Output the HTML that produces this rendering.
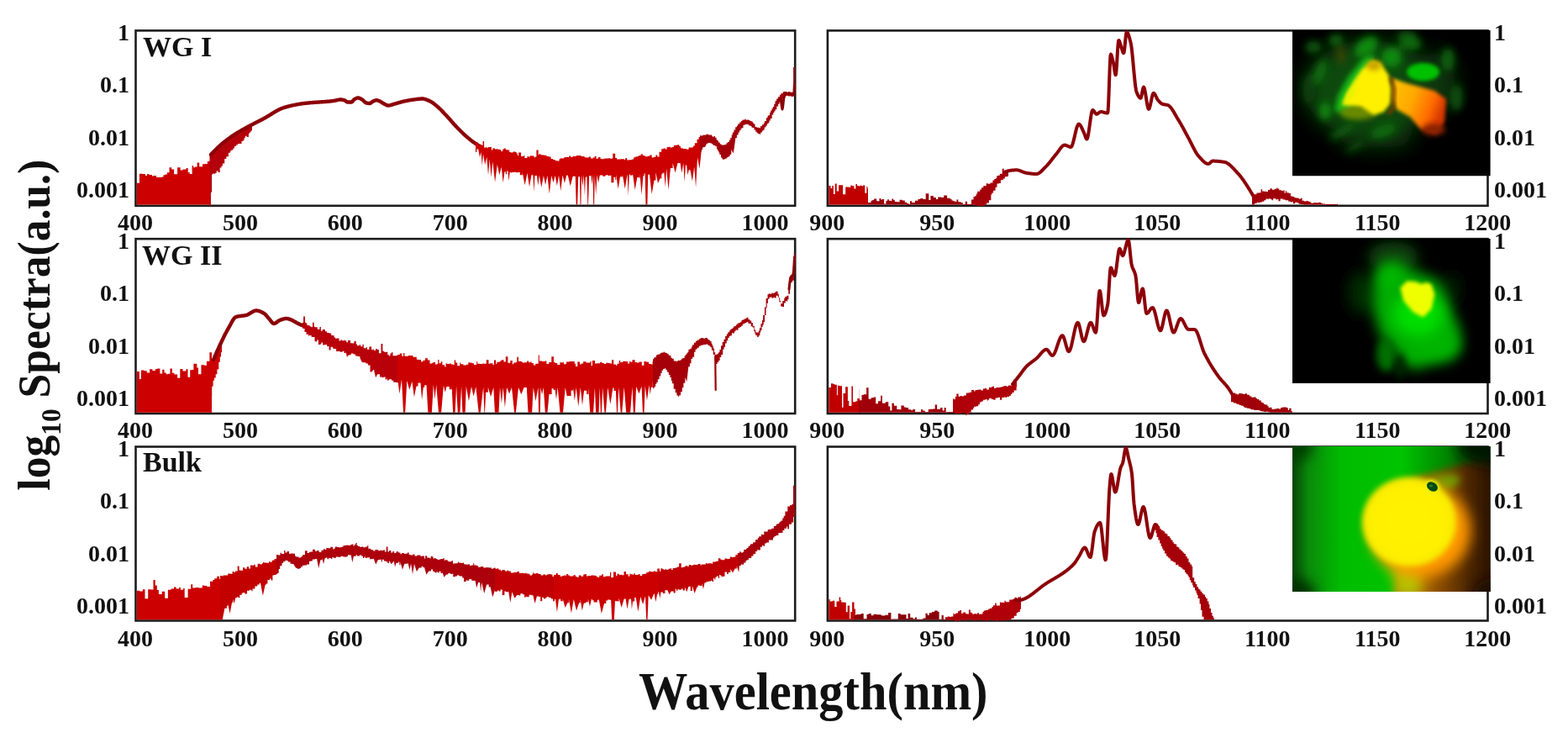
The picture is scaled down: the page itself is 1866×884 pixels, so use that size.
<!DOCTYPE html>
<html><head><meta charset="utf-8"><title>Spectra</title>
<style>
html,body{margin:0;padding:0;background:#fff;}
body{width:1866px;height:884px;overflow:hidden;}
svg{display:block;}
.tk{font-family:"Liberation Serif",serif;font-weight:bold;font-size:28px;fill:#111;}
.tx{font-family:"Liberation Serif",serif;font-weight:bold;font-size:28px;fill:#111;}
.pl{font-family:"Liberation Serif",serif;font-weight:bold;font-size:34px;fill:#111;}
.xl{font-family:"Liberation Serif",serif;font-weight:bold;font-size:64px;fill:#111;}
.yl{font-family:"Liberation Serif",serif;font-weight:bold;font-size:54px;fill:#111;}
</style></head>
<body>
<svg width="1866" height="884" viewBox="0 0 1866 884">
<rect width="1866" height="884" fill="#fff"/>
<rect x="161.5" y="36.4" width="784.7" height="208.4" fill="none" stroke="#1c1c1c" stroke-width="2.6"/>
<rect x="984.9" y="36.4" width="785.6" height="208.4" fill="none" stroke="#1c1c1c" stroke-width="2.6"/>
<rect x="161.5" y="284.2" width="784.7" height="207.8" fill="none" stroke="#1c1c1c" stroke-width="2.6"/>
<rect x="984.9" y="284.2" width="785.6" height="207.8" fill="none" stroke="#1c1c1c" stroke-width="2.6"/>
<rect x="161.5" y="531.5" width="784.7" height="207.0" fill="none" stroke="#1c1c1c" stroke-width="2.6"/>
<rect x="984.9" y="531.5" width="785.6" height="207.0" fill="none" stroke="#1c1c1c" stroke-width="2.6"/>
<g id="curves">
<path d="M162.8 217.8 L165.9 217.8 L165.9 206.8 L169.6 206.8 L169.6 207 L173 207 L173 209 L175.1 209 L175.1 207 L177.4 207 L177.4 208 L181 208 L181 209.4 L182.6 209.4 L182.6 209 L186.1 209 L186.1 210.9 L189.6 210.9 L189.6 210.9 L192.3 210.9 L192.3 210.4 L194.5 210.4 L194.5 208.3 L196.7 208.3 L196.7 207.4 L198.9 207.4 L198.9 205.3 L201.5 205.3 L201.5 199.2 L204.2 199.2 L204.2 201.4 L207.1 201.4 L207.1 207.2 L211.1 207.2 L211.1 199.3 L214.6 199.3 L214.6 202.6 L217.6 202.6 L217.6 201.5 L221.6 201.5 L221.6 200.1 L223.7 200.1 L223.7 204.9 L225.6 204.9 L225.6 206.9 L228.6 206.9 L228.6 196.9 L230.2 196.9 L230.2 199.3 L231.8 199.3 L231.8 198.6 L234.6 198.6 L234.6 193.4 L237.2 193.4 L237.2 198.3 L241 198.3 L241 195.3 L244.1 195.3 L244.1 195.1 L246.9 195.1 L246.9 192.1 L249.6 192.1 L249.6 190.8 L250.5 190.8 L250.5 243.6 L250.5 243.6 L249.1 243.6 L249.1 243.6 L247.6 243.6 L247.6 243.6 L245.7 243.6 L245.7 243.6 L244.1 243.6 L244.1 243.6 L242.1 243.6 L242.1 243.6 L240 243.6 L240 243.6 L238.4 243.6 L238.4 243.6 L234.6 243.6 L234.6 243.6 L230.9 243.6 L230.9 243.6 L227.1 243.6 L227.1 243.6 L223.8 243.6 L223.8 243.6 L220.4 243.6 L220.4 243.6 L218.7 243.6 L218.7 243.6 L215.6 243.6 L215.6 243.6 L213 243.6 L213 243.6 L210.7 243.6 L210.7 243.6 L207.7 243.6 L207.7 243.6 L204.7 243.6 L204.7 243.6 L201.1 243.6 L201.1 243.6 L199.1 243.6 L199.1 243.6 L197.1 243.6 L197.1 243.6 L194.7 243.6 L194.7 243.6 L191.7 243.6 L191.7 243.6 L188.5 243.6 L188.5 243.6 L186.4 243.6 L186.4 243.6 L183.6 243.6 L183.6 243.6 L181.9 243.6 L181.9 243.6 L179.4 243.6 L179.4 243.6 L176.8 243.6 L176.8 243.6 L173.4 243.6 L173.4 243.6 L170.6 243.6 L170.6 243.6 L166.7 243.6 L166.7 243.6 L162.8 243.6Z" fill="#cc0000"/>
<path d="M249.5 185.1 L251.3 185.1 L251.3 181.6 L253.5 181.6 L253.5 179.6 L255.5 179.6 L255.5 177.3 L257.4 177.3 L257.4 175.9 L258.7 175.9 L258.7 175.3 L260.6 175.3 L260.6 173.2 L261.6 173.2 L261.6 172.6 L263.8 172.6 L263.8 170.6 L266.3 170.6 L266.3 170.1 L268.6 170.1 L268.6 166.1 L269.6 166.1 L269.6 167 L271.1 167 L271.1 165.2 L272.6 165.2 L272.6 164.3 L273.8 164.3 L273.8 162.2 L275.7 162.2 L275.7 161.6 L277.9 161.6 L277.9 161.4 L279.4 161.4 L279.4 159.6 L281.7 159.6 L281.7 158.4 L283.9 158.4 L283.9 157 L285.1 157 L285.1 157.2 L287.2 157.2 L287.2 155 L289.6 155 L289.6 152.2 L290.9 152.2 L290.9 152.6 L292.7 152.6 L292.7 150.5 L294.7 150.5 L294.7 148.5 L296.6 148.5 L296.6 149.9 L297.7 149.9 L297.7 150.7 L299.7 150.7 L299.7 149.1 L300 149.1 L300 152 L300 155.6 L298.5 155.6 L298.5 157.4 L297 157.4 L297 158.7 L295.9 158.7 L295.9 163 L293.6 163 L293.6 161.8 L291.9 161.8 L291.9 164 L290.7 164 L290.7 166.5 L289.5 166.5 L289.5 167.9 L287.5 167.9 L287.5 171 L285.3 171 L285.3 171 L282.9 171 L282.9 172.5 L280.9 172.5 L280.9 174.1 L279 174.1 L279 176.5 L277.4 176.5 L277.4 178.5 L275.3 178.5 L275.3 179.4 L274.1 179.4 L274.1 181.7 L271.9 181.7 L271.9 186.3 L269.4 186.3 L269.4 189.1 L267.2 189.1 L267.2 194.4 L264.9 194.4 L264.9 197.6 L263.5 197.6 L263.5 199.6 L261.7 199.6 L261.7 205.1 L259.7 205.1 L259.7 203.4 L257.6 203.4 L257.6 206 L256 206 L256 206.7 L254.7 206.7 L254.7 206.4 L253.3 206.4 L253.3 207.6 L252.1 207.6 L252.1 228.8 L250.9 228.8 L250.9 245.3 L249.5 245.3Z" fill="#b4000a"/>
<path d="M251 184L251.5 183.4L252 182.9L252.5 182.4L253 181.8L253.5 181.3L254 180.8L254.5 180.2L255 179.7L255.5 179.2L256 178.7L256.5 178.2L257 177.7L257.5 177.2L258 176.7L258.5 176.3L259 175.8L259.5 175.3L260 174.8L260.5 174.4L261 173.9L261.5 173.5L262 173L262.5 172.6L263 172.1L263.5 171.7L264 171.2L264.5 170.8L265 170.4L265.5 170L266 169.6L266.5 169.2L267 168.8L267.5 168.4L268 168L268.5 167.6L269 167.2L269.5 166.9L270 166.5L270.5 166.1L271 165.7L271.5 165.4L272 165L272.5 164.6L273 164.3L273.5 163.9L274 163.6L274.5 163.2L275 162.8L275.5 162.5L276 162.2L276.5 161.8L277 161.5L277.5 161.1L278 160.8L278.5 160.5L279 160.1L279.5 159.8L280 159.5L280.5 159.2L281 158.9L281.5 158.6L282 158.2L282.5 157.9L283 157.6L283.5 157.3L284 157L284.5 156.7L285 156.5L285.5 156.2L286 155.9L286.5 155.6L287 155.3L287.5 155L288 154.7L288.5 154.4L289 154.2L289.5 153.9L290 153.6L290.5 153.3L291 153.1L291.5 152.8L292 152.5L292.5 152.2L293 151.9L293.5 151.7L294 151.4L294.5 151.1L295 150.9L295.5 150.6L296 150.3L296.5 150.1L297 149.8L297.5 149.5L298 149.3L298.5 149L299 148.8L299.5 148.5L300 148.2L300.5 148L301 147.7L301.5 147.5L302 147.2L302.5 146.9L303 146.7L303.5 146.4L304 146.2L304.5 145.9L305 145.7L305.5 145.4L306 145.2L306.5 144.9L307 144.6L307.5 144.4L308 144.1L308.5 143.9L309 143.6L309.5 143.4L310 143.1L310.5 142.8L311 142.6L311.5 142.3L312 142.1L312.5 141.8L313 141.5L313.5 141.3L314 141L314.5 140.7L315 140.5L315.5 140.2L316 139.9L316.5 139.6L317 139.3L317.5 139L318 138.7L318.5 138.4L319 138.1L319.5 137.8L320 137.5L320.5 137.2L321 136.9L321.5 136.6L322 136.3L322.5 136L323 135.7L323.5 135.3L324 135L324.5 134.7L325 134.4L325.5 134.1L326 133.8L326.5 133.5L327 133.2L327.5 132.9L328 132.6L328.5 132.3L329 132L329.5 131.8L330 131.5L330.5 131.2L331 131L331.5 130.7L332 130.4L332.5 130.2L333 130L333.5 129.7L334 129.5L334.5 129.3L335 129.1L335.5 128.9L336 128.7L336.5 128.5L337 128.3L337.5 128.2L338 128L338.5 127.9L339 127.7L339.5 127.6L340 127.4L340.5 127.3L341 127.1L341.5 127L342 126.9L342.5 126.7L343 126.6L343.5 126.5L344 126.3L344.5 126.2L345 126.1L345.5 126L346 125.9L346.5 125.7L347 125.6L347.5 125.5L348 125.4L348.5 125.3L349 125.2L349.5 125.1L350 125L350.5 124.9L351 124.8L351.5 124.7L352 124.6L352.5 124.5L353 124.4L353.5 124.3L354 124.2L354.5 124.1L355 124L355.5 123.9L356 123.9L356.5 123.8L357 123.7L357.5 123.6L358 123.5L358.5 123.5L359 123.4L359.5 123.3L360 123.3L360.5 123.2L361 123.1L361.5 123.1L362 123L362.5 122.9L363 122.9L363.5 122.8L364 122.8L364.5 122.7L365 122.7L365.5 122.6L366 122.6L366.5 122.5L367 122.5L367.5 122.4L368 122.4L368.5 122.3L369 122.3L369.5 122.2L370 122.2L370.5 122.1L371 122.1L371.5 122.1L372 122L372.5 122L373 122L373.5 121.9L374 121.9L374.5 121.8L375 121.8L375.5 121.8L376 121.7L376.5 121.7L377 121.7L377.5 121.6L378 121.6L378.5 121.6L379 121.5L379.5 121.5L380 121.5L380.5 121.4L381 121.4L381.5 121.4L382 121.3L382.5 121.3L383 121.3L383.5 121.2L384 121.2L384.5 121.2L385 121.1L385.5 121.1L386 121.1L386.5 121L387 121L387.5 121L388 120.9L388.5 120.9L389 120.8L389.5 120.8L390 120.7L390.5 120.7L391 120.7L391.5 120.6L392 120.6L392.5 120.5L393 120.5L393.5 120.4L394 120.4L394.5 120.3L395 120.2L395.5 120.2L396 120.1L396.5 120.1L397 120L397.5 119.9L398 119.8L398.5 119.7L399 119.6L399.5 119.5L400 119.4L400.5 119.2L401 119.1L401.5 119L402 118.9L402.5 118.8L403 118.7L403.5 118.6L404 118.6L404.5 118.5L405 118.5L405.5 118.5L406 118.5L406.5 118.6L407 118.7L407.5 118.7L408 118.8L408.5 118.9L409 119L409.5 119.1L410 119.4L410.5 119.7L411 120L411.5 120.4L412 120.7L412.5 121L413 121.3L413.5 121.4L414 121.5L414.5 121.5L415 121.5L415.5 121.5L416 121.5L416.5 121.5L417 121.5L417.5 121.5L418 121.5L418.5 121.4L419 121.1L419.5 120.6L420 120L420.5 119.4L421 118.8L421.5 118.4L422 118L422.5 117.7L423 117.5L423.5 117.2L424 117L424.5 116.8L425 116.6L425.5 116.5L426 116.5L426.5 116.5L427 116.6L427.5 116.8L428 116.9L428.5 117.2L429 117.4L429.5 117.7L430 118L430.5 118.2L431 118.5L431.5 118.8L432 119.2L432.5 119.7L433 120.2L433.5 120.7L434 121.2L434.5 121.6L435 122L435.5 122.3L436 122.5L436.5 122.6L437 122.7L437.5 122.8L438 122.9L438.5 122.9L439 123L439.5 123L440 123L440.5 122.9L441 122.7L441.5 122.4L442 122L442.5 121.5L443 121.1L443.5 120.8L444 120.5L444.5 120.3L445 120.1L445.5 119.9L446 119.7L446.5 119.5L447 119.4L447.5 119.3L448 119.3L448.5 119.3L449 119.4L449.5 119.5L450 119.7L450.5 119.9L451 120.1L451.5 120.3L452 120.5L452.5 120.7L453 121L453.5 121.3L454 121.6L454.5 121.9L455 122.3L455.5 122.6L456 122.9L456.5 123.2L457 123.5L457.5 123.8L458 124L458.5 124.3L459 124.5L459.5 124.8L460 125L460.5 125.2L461 125.4L461.5 125.5L462 125.5L462.5 125.5L463 125.4L463.5 125.4L464 125.3L464.5 125.2L465 125.1L465.5 124.9L466 124.8L466.5 124.6L467 124.4L467.5 124.3L468 124.1L468.5 123.9L469 123.8L469.5 123.6L470 123.5L470.5 123.4L471 123.2L471.5 123.1L472 123L472.5 122.8L473 122.7L473.5 122.5L474 122.4L474.5 122.2L475 122.1L475.5 121.9L476 121.8L476.5 121.7L477 121.5L477.5 121.4L478 121.2L478.5 121.1L479 121L479.5 120.8L480 120.7L480.5 120.6L481 120.5L481.5 120.4L482 120.3L482.5 120.2L483 120.1L483.5 120L484 119.9L484.5 119.8L485 119.7L485.5 119.6L486 119.5L486.5 119.4L487 119.3L487.5 119.2L488 119.1L488.5 119.1L489 119L489.5 118.9L490 118.8L490.5 118.8L491 118.7L491.5 118.6L492 118.6L492.5 118.5L493 118.4L493.5 118.4L494 118.3L494.5 118.2L495 118.1L495.5 118.1L496 118L496.5 117.9L497 117.9L497.5 117.8L498 117.8L498.5 117.7L499 117.7L499.5 117.6L500 117.6L500.5 117.6L501 117.5L501.5 117.5L502 117.5L502.5 117.5L503 117.5L503.5 117.5L504 117.6L504.5 117.7L505 117.8L505.5 117.9L506 118.1L506.5 118.2L507 118.4L507.5 118.6L508 118.8L508.5 119L509 119.2L509.5 119.4L510 119.6L510.5 119.9L511 120.1L511.5 120.3L512 120.5L512.5 120.8L513 121.1L513.5 121.4L514 121.7L514.5 122L515 122.4L515.5 122.7L516 123.1L516.5 123.5L517 123.9L517.5 124.3L518 124.7L518.5 125.1L519 125.5L519.5 125.9L520 126.3L520.5 126.8L521 127.2L521.5 127.6L522 128.1L522.5 128.6L523 129L523.5 129.5L524 130L524.5 130.5L525 131L525.5 131.5L526 132L526.5 132.6L527 133.1L527.5 133.6L528 134.1L528.5 134.7L529 135.2L529.5 135.7L530 136.2L530.5 136.8L531 137.3L531.5 137.8L532 138.4L532.5 138.9L533 139.5L533.5 140L534 140.6L534.5 141.1L535 141.7L535.5 142.3L536 142.9L536.5 143.4L537 144L537.5 144.6L538 145.2L538.5 145.7L539 146.3L539.5 146.9L540 147.4L540.5 148L541 148.5L541.5 149.1L542 149.6L542.5 150.1L543 150.6L543.5 151.2L544 151.7L544.5 152.2L545 152.7L545.5 153.2L546 153.8L546.5 154.3L547 154.8L547.5 155.3L548 155.8L548.5 156.3L549 156.8L549.5 157.3L550 157.7L550.5 158.2L551 158.7L551.5 159.2L552 159.6L552.5 160.1L553 160.6L553.5 161L554 161.4L554.5 161.9L555 162.3L555.5 162.8L556 163.2L556.5 163.6L557 164.1L557.5 164.5L558 164.9L558.5 165.3L559 165.7L559.5 166.1L560 166.5L560.5 166.9L561 167.3L561.5 167.7L562 168.1L562.5 168.5L563 168.8L563.5 169.2L564 169.5L564.5 169.9L565 170.2L565.5 170.6L566 170.9L566.5 171.2L567 171.5L567.5 171.9L568 172.2L568.5 172.5L569 172.8L569.5 173.1L570 173.4L570.5 173.7L571 173.9L571.5 174.2L572 174.5L572.5 174.7L573 175L573.5 175.3L574 175.5" fill="none" stroke="#8c0008" stroke-width="4.4" stroke-linejoin="round" stroke-linecap="round"/>
<path d="M566 169.4 L569 169.4 L569 172.2 L571.8 172.2 L571.8 172.8 L574.6 172.8 L574.6 168.1 L576.1 168.1 L576.1 175.8 L577.9 175.8 L577.9 174.9 L579.3 174.9 L579.3 176.3 L580.6 176.3 L580.6 175.1 L581.7 175.1 L581.7 175.1 L583.7 175.1 L583.7 174.7 L584.9 174.7 L584.9 178.5 L586.3 178.5 L586.3 176.6 L589 176.6 L589 177.4 L590.9 177.4 L590.9 177.3 L592.3 177.3 L592.3 177.8 L594.7 177.8 L594.7 177.9 L596.2 177.9 L596.2 180.1 L598.2 180.1 L598.2 177.5 L599.8 177.5 L599.8 176.4 L601.8 176.4 L601.8 178.3 L604.1 178.3 L604.1 178.5 L606.2 178.5 L606.2 181 L608 181 L608 181.6 L610.5 181.6 L610.5 180.6 L613.3 180.6 L613.3 181 L614.6 181 L614.6 182.6 L615.9 182.6 L615.9 184.9 L617.1 184.9 L617.1 181.6 L620.1 181.6 L620.1 186.1 L623 186.1 L623 185.3 L624.4 185.3 L624.4 187.9 L627.4 187.9 L627.4 185.9 L628.8 185.9 L628.8 186.6 L630.8 186.6 L630.8 185.2 L632.8 185.2 L632.8 185.4 L635.6 185.4 L635.6 187.4 L636.7 187.4 L636.7 186.5 L638.4 186.5 L638.4 178.4 L640.6 178.4 L640.6 184.1 L641.7 184.1 L641.7 182.9 L643.2 182.9 L643.2 184.2 L645.1 184.2 L645.1 184.4 L647.9 184.4 L647.9 184.7 L650.4 184.7 L650.4 186 L653 186 L653 186.6 L655.6 186.6 L655.6 189.1 L658 189.1 L658 189.9 L660.7 189.9 L660.7 191.2 L663 191.2 L663 191.6 L665.5 191.6 L665.5 189.2 L667.1 189.2 L667.1 188.3 L668.4 188.3 L668.4 188.6 L671 188.6 L671 187.6 L672.3 187.6 L672.3 186.9 L675.1 186.9 L675.1 187 L677.3 187 L677.3 185.6 L679 185.6 L679 186.8 L681.9 186.8 L681.9 185.8 L683.2 185.8 L683.2 186 L685.2 186 L685.2 185.5 L686.4 185.5 L686.4 185 L689.3 185 L689.3 185 L691.5 185 L691.5 186.1 L694.1 186.1 L694.1 186.1 L695.6 186.1 L695.6 187.3 L698.2 187.3 L698.2 187.5 L700.6 187.5 L700.6 186.6 L702.9 186.6 L702.9 188.5 L705.8 188.5 L705.8 187.4 L707.7 187.4 L707.7 185.8 L709.5 185.8 L709.5 188.7 L711.9 188.7 L711.9 186.9 L714.6 186.9 L714.6 189.1 L716.2 189.1 L716.2 189.2 L718.6 189.2 L718.6 188.8 L720 188.8 L720 188.6 L722.1 188.6 L722.1 188.6 L724.6 188.6 L724.6 188 L725.8 188 L725.8 188.7 L728.2 188.7 L728.2 188.4 L729.3 188.4 L729.3 182.8 L732.2 182.8 L732.2 187.9 L734.1 187.9 L734.1 189.4 L735.9 189.4 L735.9 189.4 L738.4 189.4 L738.4 189.3 L740.4 189.3 L740.4 189.2 L742.9 189.2 L742.9 190.3 L744.1 190.3 L744.1 188.2 L746.2 188.2 L746.2 190.4 L748.3 190.4 L748.3 190.2 L751.2 190.2 L751.2 190 L752.2 190 L752.2 189.5 L754.1 189.5 L754.1 187.3 L756.4 187.3 L756.4 186.3 L758.5 186.3 L758.5 186.3 L759.7 186.3 L759.7 185.3 L761.8 185.3 L761.8 184.6 L763.3 184.6 L763.3 182.9 L764.7 182.9 L764.7 185.1 L767.4 185.1 L767.4 186 L768.8 186 L768.8 186.2 L770.7 186.2 L770.7 185.8 L773.2 185.8 L773.2 184.5 L775.7 184.5 L775.7 187.4 L777.8 187.4 L777.8 186.7 L780.4 186.7 L780.4 184.5 L782.3 184.5 L782.3 186.5 L784.5 186.5 L784.5 180.8 L787.2 180.8 L787.2 177.2 L789.5 177.2 L789.5 176.5 L791.8 176.5 L791.8 177.4 L793.6 177.4 L793.6 174.9 L795.8 174.9 L795.8 174.8 L797.5 174.8 L797.5 175.6 L800 175.6 L800 175 L801.8 175 L801.8 173 L803.7 173 L803.7 172.8 L806.2 172.8 L806.2 172.2 L808.2 172.2 L808.2 173.8 L809.9 173.8 L809.9 176.2 L812.6 176.2 L812.6 177.1 L814.3 177.1 L814.3 177.1 L817 177.1 L817 177.7 L819.6 177.7 L819.6 175.4 L821.5 175.4 L821.5 175.5 L823.9 175.5 L823.9 175.3 L825 175.3 L825 173.4 L826.8 173.4 L826.8 170.3 L829.5 170.3 L829.5 165.8 L831.6 165.8 L831.6 162.9 L833.8 162.9 L833.8 162.6 L836 162.6 L836 176 L836 177.5 L834.9 177.5 L832.5 200.7 L830 187.2 L828.1 222.9 L826.2 198.6 L823.9 215.5 L821.5 202.4 L821.5 202.2 L819.7 202.2 L818.4 208.2 L817.1 197 L817.1 196.6 L815.9 196.6 L814.6 216.6 L813.3 194.2 L811.3 205.8 L809.3 192.7 L809.3 194.1 L806.5 194.1 L803.6 205.6 L800.6 194.1 L800.6 200.1 L797.9 200.1 L795.5 225.8 L793.2 200.5 L791.7 222.2 L790.1 203 L790.1 205.7 L788.4 205.7 L788.4 207.3 L787.3 207.3 L787.3 212.2 L785.6 212.2 L783 218.1 L780.4 205.1 L780.4 214.4 L778.5 214.4 L775.6 231.1 L772.8 205.8 L772.8 207.7 L771.2 207.7 L770.4 243.6 L768.5 243.6 L767.6 206.2 L767.6 206.4 L766.5 206.4 L766.5 209.2 L765.4 209.2 L763.5 232.1 L761.5 206.5 L761.5 211.8 L760.5 211.8 L760.5 211 L758.3 211 L755.7 226 L753 206.9 L753 208.2 L751.7 208.2 L751.7 208.8 L749.9 208.8 L749.9 207.6 L748.8 207.6 L747.7 233 L746.6 207.2 L743.7 224.4 L740.8 207.4 L740.8 210.2 L738 210.2 L735.6 224.7 L733.2 207.7 L733.2 214 L732.2 214 L732.2 210.8 L730.4 210.8 L730.4 217.2 L727.4 217.2 L727.4 208.7 L726.1 208.7 L726.1 208.9 L723.4 208.9 L723.4 208.1 L722.3 208.1 L722.3 208.5 L720.3 208.5 L720.3 209.7 L717.4 209.7 L717.4 208.4 L716.2 208.4 L716.2 208.6 L713.8 208.6 L712.1 217.4 L710.5 208 L709.2 232.2 L707.8 208 L707.1 243.6 L706.2 243.6 L705.5 208 L704.4 219.8 L703.4 208 L703.4 209.3 L701.1 209.3 L700 243.6 L699.4 243.6 L698.3 208 L698.3 210.4 L696.9 210.4 L695.9 232.7 L694.8 208 L693.4 221.9 L692 208 L691.4 243.6 L690.5 243.6 L689.9 208 L689.9 210.2 L688.2 210.2 L687.2 243.6 L685.7 243.6 L684.7 208 L684.7 209.7 L681.7 209.7 L678.7 221.2 L675.7 208.2 L675.7 208.4 L674.3 208.4 L671.9 217.7 L669.5 208.4 L667.3 227.2 L665 208.6 L662.9 221.2 L660.7 208.8 L658.5 217.3 L656.2 208.9 L653.8 230.6 L651.4 209 L649.1 220.1 L646.9 208.9 L644.3 223 L641.8 208.4 L640.3 220.8 L638.9 207.9 L638.9 209.1 L636.5 209.1 L635.4 228.6 L634.3 207.1 L634.3 208.2 L632.5 208.2 L630 222.3 L627.5 205.9 L624.6 220.2 L621.7 205 L621.7 208.3 L618.8 208.3 L618.8 204.9 L615.9 204.9 L615.9 205.3 L614 205.3 L614 204.7 L611 204.7 L611 204.9 L608.9 204.9 L608.9 205.5 L607.8 205.5 L607.8 204.7 L606.7 204.7 L605.5 215.5 L604.3 201.7 L604.3 203.4 L603.1 203.4 L603.1 207.2 L601.8 207.2 L601.8 204.2 L600.5 204.2 L598.7 217.5 L596.8 198.8 L594.3 208.2 L591.8 195.8 L589.1 216.7 L586.3 192.2 L584.5 211 L582.7 189.5 L581 208.3 L579.3 186.8 L577.2 196.1 L575 183.2 L573.7 197.2 L572.5 181 L570.9 186.9 L569.3 178.1 L569.3 177.5 L567.3 177.5 L567.3 181 L566 181Z" fill="#cc0000"/>
<path d="M833 161.3 L834.9 161.3 L834.9 161.5 L836.5 161.5 L836.5 160.6 L837.6 160.6 L837.6 160.7 L838.8 160.7 L838.8 160.4 L840.8 160.4 L840.8 159.6 L841.8 159.6 L841.8 159.7 L843.1 159.7 L843.1 160.5 L845.1 160.5 L845.1 160.6 L846.1 160.6 L846.1 160.5 L847.2 160.5 L847.2 162.3 L848.5 162.3 L848.5 163.1 L849.5 163.1 L849.5 161.9 L851 161.9 L851 163.7 L852.6 163.7 L852.6 166.5 L853.9 166.5 L853.9 167.4 L855 167.4 L855 169.4 L856.8 169.4 L856.8 171.6 L858.6 171.6 L858.6 172.6 L860.2 172.6 L860.2 172.8 L861.3 172.8 L861.3 172.2 L862.9 172.2 L862.9 172 L864.5 172 L864.5 170.3 L865.9 170.3 L865.9 168.9 L867.8 168.9 L867.8 166.4 L869.2 166.4 L869.2 164 L870.7 164 L870.7 160.5 L871.8 160.5 L871.8 157.5 L873.4 157.5 L873.4 154.4 L875.2 154.4 L875.2 151.2 L876.9 151.2 L876.9 149.5 L878.1 149.5 L878.1 147.5 L880.1 147.5 L880.1 145.4 L881.9 145.4 L881.9 143.9 L883.3 143.9 L883.3 142.8 L884.7 142.8 L884.7 142.6 L886.5 142.6 L886.5 141.5 L887.6 141.5 L887.6 142.8 L889.3 142.8 L889.3 142.6 L891 142.6 L891 142.9 L892.5 142.9 L892.5 143.9 L894.4 143.9 L894.4 144.7 L895.9 144.7 L895.9 146.5 L897.3 146.5 L897.3 147.8 L898.6 147.8 L898.6 150.9 L900.5 150.9 L900.5 151.7 L901.8 151.7 L901.8 151.8 L903.5 151.8 L903.5 152.2 L905 152.2 L905 150 L906.9 150 L906.9 148.2 L908.8 148.2 L908.8 146.5 L909.9 146.5 L909.9 144.1 L911.9 144.1 L911.9 140.2 L913.5 140.2 L913.5 138.1 L914.5 138.1 L914.5 137 L916 137 L916 134 L917.1 134 L917.1 131.4 L918.6 131.4 L918.6 129.1 L919.8 129.1 L919.8 127.1 L921.2 127.1 L921.2 123.7 L922.5 123.7 L922.5 120.2 L924.1 120.2 L924.1 117.4 L925.9 117.4 L925.9 115.3 L927.9 115.3 L927.9 112.9 L929.2 112.9 L929.2 111.2 L930.8 111.2 L930.8 110.7 L931.8 110.7 L931.8 109.3 L933.1 109.3 L933.1 109.1 L935.1 109.1 L935.1 109.1 L936.2 109.1 L936.2 110.3 L938.1 110.3 L938.1 109 L939.7 109 L939.7 109.6 L941 109.6 L941 109.8 L942.8 109.8 L942.8 110.2 L944.1 110.2 L944.1 80.1 L946 80.1 L946 59.8 L946 59.8 L946 90 L946 114.5 L944.3 114.5 L944.3 114.7 L943.1 114.7 L943.1 114.9 L941.9 114.9 L941.9 114.6 L940.7 114.6 L940.7 114.2 L939 114.2 L939 114.6 L937.6 114.6 L937.6 113.8 L936.2 113.8 L936.2 114.1 L934.6 114.1 L934.6 114.7 L932.9 114.7 L932.9 117.3 L931.1 117.3 L931.1 119.7 L929.2 119.7 L929.2 121.4 L927.5 121.4 L927.5 123.7 L926.1 123.7 L926.1 126.4 L924.3 126.4 L924.3 130.2 L922.6 130.2 L922.6 132.3 L921.4 132.3 L921.4 134.1 L920.3 134.1 L920.3 136.5 L918.7 136.5 L918.7 141 L916.8 141 L916.8 143.5 L915.4 143.5 L915.4 146.1 L914.4 146.1 L914.4 147.3 L912.8 147.3 L912.8 149.6 L911.4 149.6 L911.4 151.5 L909.7 151.5 L909.7 154.6 L908.4 154.6 L908.4 155.5 L907.1 155.5 L907.1 157.5 L905.2 157.5 L905.2 159.7 L903.7 159.7 L903.7 158.9 L902 158.9 L902 158.2 L900.7 158.2 L900.7 156.7 L899.2 156.7 L899.2 154.6 L897.5 154.6 L897.5 151.9 L895.7 151.9 L895.7 151.7 L894.5 151.7 L894.5 150 L893.2 150 L893.2 149.4 L891.3 149.4 L891.3 148.3 L889.7 148.3 L889.7 147.7 L887.7 147.7 L887.7 148.3 L886.2 148.3 L886.2 148.8 L884.5 148.8 L884.5 152.2 L882.7 152.2 L882.7 153.2 L881.6 153.2 L881.6 155 L880.1 155 L880.1 157.6 L878.6 157.6 L878.6 160.5 L876.9 160.5 L876.9 163.9 L875.4 163.9 L872.8 182.4 L870.3 178.1 L870.3 183.8 L868.6 183.8 L868.6 186.1 L866.9 186.1 L866.9 187 L865.3 187 L865.3 188.4 L863.4 188.4 L863.4 189 L862.2 189 L862.2 189.9 L861.2 189.9 L861.2 189.5 L859.5 189.5 L859.5 187.4 L858 187.4 L858 184.1 L856.3 184.1 L856.3 181.6 L855.3 181.6 L855.3 179.5 L854.2 179.5 L854.2 177.4 L852.9 177.4 L852.9 173.9 L851.3 173.9 L851.3 173.1 L850.2 173.1 L850.2 173 L848.8 173 L848.8 171.5 L847.1 171.5 L847.1 170.6 L845.4 170.6 L845.4 170.1 L843.4 170.1 L843.4 170.1 L842.2 170.1 L842.2 171.2 L840.3 171.2 L840.3 173.4 L839.2 173.4 L839.2 175 L837.3 175 L837.3 175.6 L836 175.6 L836 178.3 L834.5 178.3 L834.5 180.7 L833 180.7Z" fill="#a3000a"/>
<path d="M926 120L926.5 119.2L927 118.6L927.5 118.2L928 118.1L928.5 118L929 118L929.5 119.9L930 124L930.5 128.1L931 130L931.5 128.1L932 123.7L932.5 119L933 116L933.5 114.7L934 113.5L934.5 112.4L935 111.7L935.5 111.2L936 111L936.5 111L937 111L937.5 111.1L938 111.2L938.5 111.2L939 111.3L939.5 111.4L940 111.5L940.5 111.6L941 111.7L941.5 111.8L942 111.8L942.5 111.9L943 112L943.5 112L944 112L944.5 111.4L945 108.2L945.5 100" fill="none" stroke="#8c0008" stroke-width="3" stroke-linejoin="round" stroke-linecap="round"/>
<path d="M162.8 441.9 L165.9 441.9 L165.9 450.9 L167.9 450.9 L167.9 440.4 L171.4 440.4 L171.4 441.2 L174.8 441.2 L174.8 443.6 L178.1 443.6 L178.1 439.2 L181.4 439.2 L181.4 441 L184.9 441 L184.9 438.9 L187.2 438.9 L187.2 438.6 L190.4 438.6 L190.4 444.6 L193.2 444.6 L193.2 439.7 L195.5 439.7 L195.5 443.6 L197.8 443.6 L197.8 445.3 L199.7 445.3 L199.7 444.8 L202.4 444.8 L202.4 438.4 L204.9 438.4 L204.9 443.7 L207.4 443.7 L207.4 445.4 L211.1 445.4 L211.1 449.7 L214.3 449.7 L214.3 438.9 L217.5 438.9 L217.5 441.6 L221.4 441.6 L221.4 439.3 L223.5 439.3 L223.5 448.7 L226.2 448.7 L226.2 440.2 L228 440.2 L228 439.9 L230.4 439.9 L230.4 432.7 L234.3 432.7 L234.3 437.5 L236 437.5 L236 445.3 L239.4 445.3 L239.4 434.2 L243.1 434.2 L243.1 434.7 L245.9 434.7 L245.9 429.8 L249.4 429.8 L249.4 419.2 L252 419.2 L252 438.3 L252 438.3 L252 490.8 L252 490.8 L250.7 490.8 L250.7 490.8 L247.7 490.8 L247.7 490.8 L245.4 490.8 L245.4 490.8 L243.2 490.8 L243.2 490.8 L240.6 490.8 L240.6 490.8 L238.3 490.8 L238.3 490.8 L236.3 490.8 L236.3 490.8 L233.5 490.8 L233.5 490.8 L229.8 490.8 L229.8 490.8 L226.9 490.8 L226.9 490.8 L223.3 490.8 L223.3 490.8 L221.2 490.8 L221.2 490.8 L217.9 490.8 L217.9 490.8 L215.6 490.8 L215.6 490.8 L213.4 490.8 L213.4 490.8 L211.9 490.8 L211.9 490.8 L209.7 490.8 L209.7 490.8 L206.4 490.8 L206.4 490.8 L202.5 490.8 L202.5 490.8 L199.9 490.8 L199.9 490.8 L198 490.8 L198 490.8 L194.4 490.8 L194.4 490.8 L192.1 490.8 L192.1 490.8 L189.9 490.8 L189.9 490.8 L186.3 490.8 L186.3 490.8 L182.6 490.8 L182.6 490.8 L179 490.8 L179 490.8 L176.7 490.8 L176.7 490.8 L175.2 490.8 L175.2 490.8 L171.6 490.8 L171.6 490.8 L169.6 490.8 L169.6 490.8 L167.4 490.8 L167.4 490.8 L164.6 490.8 L164.6 490.8 L162.8 490.8Z" fill="#cc0000"/>
<path d="M250 430 L251.8 430 L251.8 428.1 L253.3 428.1 L253.3 427.3 L254.8 427.3 L254.8 425.3 L256.5 425.3 L256.5 421.8 L258.2 421.8 L258.2 419.4 L260.1 419.4 L260.1 414.8 L261.9 414.8 L261.9 409.7 L263.6 409.7 L263.6 405.7 L264 405.7 L264 414 L264 419.3 L263 419.3 L263 424.5 L261.8 424.5 L261.8 430.8 L260.3 430.8 L260.3 439.4 L258.4 439.4 L258.4 445.2 L256.7 445.2 L256.7 449.4 L255 449.4 L255 452.7 L253.6 452.7 L253.6 459.7 L252.2 459.7 L252.2 471.4 L251.1 471.4 L251.1 490.9 L250 490.9Z" fill="#cc0000"/>
<path d="M254 428L254.5 426.8L255 425.6L255.5 424.5L256 423.3L256.5 422.2L257 421L257.5 419.9L258 418.7L258.5 417.6L259 416.5L259.5 415.4L260 414.3L260.5 413.2L261 412.1L261.5 411.1L262 410L262.5 408.9L263 407.9L263.5 406.8L264 405.8L264.5 404.7L265 403.7L265.5 402.7L266 401.6L266.5 400.6L267 399.6L267.5 398.6L268 397.6L268.5 396.6L269 395.7L269.5 394.7L270 393.8L270.5 392.9L271 392L271.5 391.2L272 390.3L272.5 389.4L273 388.5L273.5 387.6L274 386.6L274.5 385.7L275 384.7L275.5 383.8L276 382.9L276.5 382L277 381.2L277.5 380.4L278 379.7L278.5 379L279 378.4L279.5 377.9L280 377.5L280.5 377.2L281 377L281.5 376.9L282 376.7L282.5 376.6L283 376.5L283.5 376.4L284 376.3L284.5 376.2L285 376.1L285.5 376.1L286 376L286.5 376L287 375.9L287.5 375.8L288 375.8L288.5 375.7L289 375.7L289.5 375.6L290 375.6L290.5 375.5L291 375.4L291.5 375.3L292 375.2L292.5 375.1L293 375L293.5 374.9L294 374.7L294.5 374.5L295 374.3L295.5 374L296 373.7L296.5 373.4L297 373.1L297.5 372.8L298 372.5L298.5 372.2L299 371.9L299.5 371.6L300 371.3L300.5 371L301 370.7L301.5 370.5L302 370.2L302.5 370L303 369.8L303.5 369.7L304 369.6L304.5 369.5L305 369.5L305.5 369.5L306 369.6L306.5 369.6L307 369.7L307.5 369.8L308 370L308.5 370.1L309 370.3L309.5 370.5L310 370.7L310.5 370.9L311 371.2L311.5 371.4L312 371.7L312.5 371.9L313 372.2L313.5 372.5L314 372.8L314.5 373.1L315 373.4L315.5 373.8L316 374.3L316.5 374.9L317 375.4L317.5 376L318 376.7L318.5 377.3L319 377.9L319.5 378.5L320 379L320.5 379.6L321 380.2L321.5 380.8L322 381.5L322.5 382.1L323 382.8L323.5 383.4L324 383.9L324.5 384.4L325 384.7L325.5 384.9L326 385L326.5 385L327 384.8L327.5 384.6L328 384.4L328.5 384L329 383.7L329.5 383.3L330 382.9L330.5 382.5L331 382.2L331.5 381.8L332 381.5L332.5 381.2L333 381L333.5 380.8L334 380.6L334.5 380.4L335 380.3L335.5 380.1L336 379.9L336.5 379.7L337 379.6L337.5 379.4L338 379.3L338.5 379.2L339 379.1L339.5 379.1L340 379L340.5 379L341 379L341.5 379.1L342 379.1L342.5 379.2L343 379.3L343.5 379.4L344 379.6L344.5 379.7L345 379.9L345.5 380.1L346 380.3L346.5 380.5L347 380.8L347.5 381L348 381.2L348.5 381.5L349 381.8L349.5 382L350 382.3L350.5 382.6L351 382.9L351.5 383.2L352 383.4L352.5 383.7L353 384L353.5 384.3L354 384.5L354.5 384.8L355 385.1L355.5 385.3L356 385.6L356.5 385.8L357 386L357.5 386.2L358 386.4L358.5 386.6L359 386.8L359.5 387L360 387.3L360.5 387.5L361 387.7L361.5 387.9L362 388.1L362.5 388.3L363 388.5L363.5 388.7L364 388.9L364.5 389.1L365 389.3L365.5 389.6L366 389.8L366.5 390L367 390.2L367.5 390.4L368 390.6L368.5 390.8L369 391L369.5 391.2L370 391.4L370.5 391.6L371 391.8L371.5 392L372 392.3L372.5 392.5L373 392.7L373.5 392.9L373.8 393" fill="none" stroke="#8c0008" stroke-width="4.4" stroke-linejoin="round" stroke-linecap="round"/>
<path d="M360 383.7 L361.1 383.7 L361.1 376.4 L363 376.4 L363 383.8 L364.4 383.8 L364.4 384.8 L365.4 384.8 L365.4 386.9 L368.4 386.9 L368.4 388.6 L370 388.6 L370 389.3 L372 389.3 L372 383.7 L373.7 383.7 L373.7 388.7 L374.8 388.7 L374.8 389.2 L377.7 389.2 L377.7 391.8 L380.5 391.8 L380.5 389.1 L381.9 389.1 L381.9 393.8 L383.7 393.8 L383.7 392.1 L385.5 392.1 L385.5 392.1 L386.8 392.1 L386.8 394.2 L389.1 394.2 L389.1 396 L391.7 396 L391.7 396.5 L394.2 396.5 L394.2 399.1 L396.6 399.1 L396.6 399.2 L397.6 399.2 L397.6 401.5 L399.1 401.5 L399.1 402.8 L401.1 402.8 L401.1 402.5 L403.5 402.5 L403.5 405.6 L405.3 405.6 L405.3 404.6 L407.2 404.6 L407.2 405.2 L409.9 405.2 L409.9 404.4 L410.9 404.4 L410.9 405.6 L412.4 405.6 L412.4 407.3 L414 407.3 L414 405.1 L417 405.1 L417 408.2 L418.5 408.2 L418.5 408.2 L419.6 408.2 L419.6 408.5 L421.4 408.5 L421.4 406 L423.7 406 L423.7 409.4 L425 409.4 L425 411.2 L427.7 411.2 L427.7 410.3 L429.1 410.3 L429.1 412.2 L431.5 412.2 L431.5 409.7 L432.8 409.7 L432.8 414.3 L435.6 414.3 L435.6 413.2 L437 413.2 L437 415.7 L439.4 415.7 L439.4 412.6 L442.1 412.6 L442.1 416.3 L443.6 416.3 L443.6 415.4 L444.8 415.4 L444.8 417 L447 417 L447 415.1 L449 415.1 L449 416 L450.9 416 L450.9 420.2 L453.5 420.2 L453.5 408.9 L455.4 408.9 L455.4 417.8 L457.4 417.8 L457.4 419.1 L459.4 419.1 L459.4 418.8 L461.3 418.8 L461.3 422.3 L463.1 422.3 L463.1 423.4 L464.4 423.4 L464.4 420.5 L466 420.5 L466 419.3 L467.5 419.3 L467.5 423.2 L469 423.2 L469 423.3 L471.6 423.3 L471.6 423 L472.8 423 L472.8 423.5 L474 423.5 L474 454 L474 455.2 L473.2 455.2 L473.2 455.1 L471.2 455.1 L471.2 454.8 L469.9 454.8 L469.9 454.7 L468.2 454.7 L468.2 452.8 L466 452.8 L466 451.2 L463.1 451.2 L461.7 453.5 L460.2 449.2 L460.2 451.6 L458.6 451.6 L458.6 448.5 L456.4 448.5 L456.4 449.2 L454.8 449.2 L454.8 448.5 L452 448.5 L452 445.2 L449.1 445.2 L447.1 449.2 L445.2 441.3 L445.2 440.1 L443.8 440.1 L443.8 441.5 L442.5 441.5 L442.5 442.6 L440.5 442.6 L440.5 434.6 L437.9 434.6 L437.9 432.5 L435.4 432.5 L435.4 431.3 L433.4 431.3 L430.9 431.1 L428.4 425.9 L428.4 424.1 L425.5 424.1 L425.5 423.4 L423 423.4 L423 421.6 L420.5 421.6 L420.5 420.5 L417.7 420.5 L417.7 422.2 L416.1 422.2 L416.1 422.4 L414.6 422.4 L413 425.1 L411.4 418.6 L411.4 420 L409.5 420 L409.5 417.8 L407.5 417.8 L407.5 418.7 L404.7 418.7 L404.7 418 L401.9 418 L401.9 418.1 L400.1 418.1 L400.1 415.1 L397.3 415.1 L397.3 414.6 L396.1 414.6 L396.1 412.8 L393.5 412.8 L393.5 416.4 L391.5 416.4 L391.5 412.1 L389.1 412.1 L389.1 410 L386.3 410 L386.3 410.4 L384.1 410.4 L384.1 407.4 L382.4 407.4 L382.4 409.4 L380.5 409.4 L380.5 410.1 L378.9 410.1 L378.9 404.6 L377.2 404.6 L377.2 406.2 L374.5 406.2 L374.5 401.1 L371.6 401.1 L371.6 400.7 L370.5 400.7 L370.5 399 L368.1 399 L368.1 399.6 L366.9 399.6 L366.9 397.5 L365.8 397.5 L365.8 397.9 L364.6 397.9 L364.6 395 L362.5 395 L362.5 390.8 L360 390.8Z" fill="#b8000a"/>
<path d="M473 422 L475.7 422 L475.7 420.6 L478.3 420.6 L478.3 423.8 L480.1 423.8 L480.1 419.9 L481.4 419.9 L481.4 423.8 L482.9 423.8 L482.9 423.8 L485.8 423.8 L485.8 423.1 L488.4 423.1 L488.4 423.1 L491.4 423.1 L491.4 424.7 L492.5 424.7 L492.5 424.8 L495.8 424.8 L495.8 427.8 L497.7 427.8 L497.7 428.1 L501 428.1 L501 430.2 L503.5 430.2 L503.5 428.7 L505.9 428.7 L505.9 426.2 L508.9 426.2 L508.9 428.5 L511.5 428.5 L511.5 432.4 L514.2 432.4 L514.2 431.7 L515.6 431.7 L515.6 431 L518.1 431 L518.1 433.6 L520 433.6 L520 433 L521.2 433 L521.2 427.9 L522.5 427.9 L522.5 432.3 L524.7 432.3 L524.7 430.2 L526.4 430.2 L526.4 434.2 L529.3 434.2 L529.3 436.4 L530.6 436.4 L530.6 432 L531.6 432 L531.6 433 L535.1 433 L535.1 432.6 L536.9 432.6 L536.9 433.5 L539.2 433.5 L539.2 434 L540.7 434 L540.7 428.5 L542.2 428.5 L542.2 431.5 L544.2 431.5 L544.2 435.3 L547.2 435.3 L547.2 431.5 L548.3 431.5 L548.3 433.3 L551.4 433.3 L551.4 434.5 L554.9 434.5 L554.9 433.7 L557.3 433.7 L557.3 431.2 L559.2 431.2 L559.2 431.4 L560.7 431.4 L560.7 431.7 L562.2 431.7 L562.2 432.3 L564 432.3 L564 434 L567.1 434 L567.1 430.2 L568.2 430.2 L568.2 432.8 L571.1 432.8 L571.1 432.9 L573.8 432.9 L573.8 432.8 L574.8 432.8 L574.8 432.6 L576 432.6 L576 432.7 L578.8 432.7 L578.8 428.3 L581.5 428.3 L581.5 432.8 L583.3 432.8 L583.3 432.3 L586.5 432.3 L586.5 434 L588 434 L588 428.4 L590.1 428.4 L590.1 433.1 L591.3 433.1 L591.3 430.7 L594 430.7 L594 430.6 L595.2 430.6 L595.2 429.6 L596.6 429.6 L596.6 428.2 L599.5 428.2 L599.5 430.4 L601.8 430.4 L601.8 424.3 L604.4 424.3 L604.4 431.8 L607.3 431.8 L607.3 428.9 L609.8 428.9 L609.8 433.3 L611.3 433.3 L611.3 431.6 L614 431.6 L614 430.8 L615.3 430.8 L615.3 424.7 L617 424.7 L617 430.1 L619.1 430.1 L619.1 429.7 L620.4 429.7 L620.4 430.6 L621.7 430.6 L621.7 431.4 L624.3 431.4 L624.3 431.3 L627.2 431.3 L627.2 429.5 L629.1 429.5 L629.1 431.3 L631.1 431.3 L631.1 430.4 L632.6 430.4 L632.6 432 L634.9 432 L634.9 434.6 L637.3 434.6 L637.3 432.8 L640.7 432.8 L640.7 422.5 L641.8 422.5 L641.8 429.5 L645 429.5 L645 429.9 L648.5 429.9 L648.5 429.5 L650.4 429.5 L650.4 433.1 L653.2 433.1 L653.2 430.9 L656.3 430.9 L656.3 424.2 L658.9 424.2 L658.9 431.1 L660.6 431.1 L660.6 432.1 L663.2 432.1 L663.2 434.1 L666.4 434.1 L666.4 431 L667.6 431 L667.6 431.5 L669.8 431.5 L669.8 430.8 L670.9 430.8 L670.9 433.3 L674 433.3 L674 430.5 L676.9 430.5 L676.9 430.3 L678.1 430.3 L678.1 429.9 L680.9 429.9 L680.9 429.9 L683.7 429.9 L683.7 432.7 L685 432.7 L685 435.9 L687.3 435.9 L687.3 430.5 L690 430.5 L690 433.4 L691.8 433.4 L691.8 432.4 L694.1 432.4 L694.1 430.3 L697.5 430.3 L697.5 431.6 L700.1 431.6 L700.1 431.6 L702.4 431.6 L702.4 429.7 L703.6 429.7 L703.6 434.9 L704.9 434.9 L704.9 429.1 L708 429.1 L708 432.5 L710.8 432.5 L710.8 432.3 L713.9 432.3 L713.9 430.9 L716.4 430.9 L716.4 431.9 L718.8 431.9 L718.8 433 L721.1 433 L721.1 431.8 L724 431.8 L724 432.1 L725.8 432.1 L725.8 432.5 L728 432.5 L728 428.3 L730.2 428.3 L730.2 433.5 L732.9 433.5 L732.9 434.7 L734.4 434.7 L734.4 432.7 L735.5 432.7 L735.5 432.7 L736.7 432.7 L736.7 429 L738.1 429 L738.1 430.9 L741.3 430.9 L741.3 429.8 L744.1 429.8 L744.1 430.1 L747 430.1 L747 432.5 L749.1 432.5 L749.1 429.8 L750.3 429.8 L750.3 430.8 L752.5 430.8 L752.5 428.2 L755.6 428.2 L755.6 431 L757.9 431 L757.9 431.6 L760.5 431.6 L760.5 430.6 L762.4 430.6 L762.4 430.6 L763.8 430.6 L763.8 434.7 L766.4 434.7 L766.4 430.1 L768.6 430.1 L768.6 430.4 L770.4 430.4 L770.4 430.7 L772.1 430.7 L772.1 433.1 L774.8 433.1 L774.8 433.5 L776.6 433.5 L776.6 429.7 L779.1 429.7 L779.1 427.2 L780 427.2 L780 446 L778.5 461.1 L776.8 453.9 L776.8 460.8 L774.9 460.8 L773.7 469.2 L772.4 457.9 L770 476.6 L767.7 459.1 L766.5 490.8 L764.9 490.8 L763.6 459.7 L760.4 468.2 L757.1 460.1 L755.8 490.8 L753.8 490.8 L752.5 460.3 L750.1 490.8 L745.2 490.8 L742.7 460.5 L740.2 490.8 L738.7 490.8 L736.2 460.7 L734.9 490.8 L734 490.8 L732.7 460.7 L732.7 465.1 L730.6 465.1 L730.6 461.5 L729.4 461.5 L726.3 480.9 L723.3 460.9 L720.9 490.8 L719.5 490.8 L717.1 460.9 L716 490.8 L714.8 490.8 L713.7 461 L712.6 490.8 L709.1 490.8 L707.9 461 L706.1 490.8 L702.2 490.8 L700.3 461 L700.3 469.1 L698.1 469.1 L698.1 464.7 L695.1 464.7 L693 481.9 L690.8 461 L688.3 483.7 L685.7 461 L683.8 476.8 L682 461 L682 464.4 L679.6 464.4 L679.6 471 L676.6 471 L674.7 471.2 L672.7 461 L670 490.8 L666.5 490.8 L663.7 461 L662 475.3 L660.3 461 L660.3 464 L658.7 464 L658.7 462.2 L656.6 462.2 L656.6 469 L653.5 469 L651.5 490.8 L648.8 490.8 L646.8 461 L645.1 469.4 L643.4 461 L642.8 490.8 L641 490.8 L640.4 461 L637.5 477.3 L634.7 461 L633.1 490.8 L628.5 490.8 L626.8 461 L626.8 461.1 L623.6 461.1 L620.3 469.2 L617 461 L613.9 490.8 L612.1 490.8 L609 461 L606.1 468.5 L603.1 461 L600.9 484.8 L598.7 461 L596.9 480.1 L595 461 L593.5 490.8 L588.9 490.8 L587.3 460.9 L584 472 L580.8 460.7 L580.8 466.8 L578.2 466.8 L577 490.8 L576.4 490.8 L575.2 460.5 L571.7 490.8 L569.7 490.8 L566.3 460.2 L563.6 471.5 L561 460 L557.9 477.3 L554.8 459.8 L553.6 490.8 L550.4 490.8 L549.1 459.6 L547.4 490.8 L544.8 490.8 L543.1 459.3 L541.6 490.8 L539.1 490.8 L537.6 459.1 L537.6 463.2 L534.8 463.2 L534.8 460.1 L531.5 460.1 L529.7 466.8 L527.9 458.5 L525.1 490.8 L522 490.8 L519.2 457.9 L517.5 475 L515.8 457.6 L513.9 490.8 L509.4 490.8 L507.4 456.7 L507.4 458.2 L505.2 458.2 L505.2 460.8 L503.8 460.8 L502.1 475.7 L500.5 455.7 L500.5 455.5 L497.5 455.5 L497.5 459.4 L495.5 459.4 L492.9 472.5 L490.4 454.1 L487.3 463.7 L484.3 452.9 L482.2 490.8 L480 490.8 L478 451.3 L475.5 468.6 L473 450Z" fill="#cc0000"/>
<path d="M777 427.2 L778.2 427.2 L778.2 425.5 L779.5 425.5 L779.5 424.7 L781 424.7 L781 422.5 L782.4 422.5 L782.4 421.8 L784 421.8 L784 421.5 L785.4 421.5 L785.4 420.5 L786.5 420.5 L786.5 419.7 L787.7 419.7 L787.7 419.6 L789.7 419.6 L789.7 418.6 L790.7 418.6 L790.7 419.5 L792.5 419.5 L792.5 420 L793.9 420 L793.9 421 L795.7 421 L795.7 422.7 L797 422.7 L797 423.1 L798.4 423.1 L798.4 425.8 L799.9 425.8 L799.9 426.8 L801.8 426.8 L801.8 429.5 L803.1 429.5 L803.1 429.2 L804.2 429.2 L804.2 430.2 L805.2 430.2 L805.2 429.4 L807.1 429.4 L807.1 428.8 L808.4 428.8 L808.4 428.9 L809.6 428.9 L809.6 428.3 L811.1 428.3 L811.1 426.4 L813 426.4 L813 425.9 L814.6 425.9 L814.6 423.4 L815.7 423.4 L815.7 422 L817.1 422 L817.1 420.2 L818.4 420.2 L818.4 418.7 L819.4 418.7 L819.4 415.8 L821.4 415.8 L821.4 414.8 L822.9 414.8 L822.9 412.6 L824 412.6 L824 410.2 L825.9 410.2 L825.9 407.7 L827.9 407.7 L827.9 405.7 L829.7 405.7 L829.7 404.5 L830.9 404.5 L830.9 404.4 L832.1 404.4 L832.1 403.1 L833.6 403.1 L833.6 402.2 L835.2 402.2 L835.2 402.1 L837.1 402.1 L837.1 402.7 L839.1 402.7 L839.1 401.9 L841 401.9 L841 402.2 L842.3 402.2 L842.3 403.9 L843.9 403.9 L843.9 404.7 L845 404.7 L845 406.1 L846.6 406.1 L846.6 408.7 L847.6 408.7 L847.6 411.2 L848.7 411.2 L848.7 414.4 L849.9 414.4 L849.9 419.3 L851.2 419.3 L851.2 421.9 L852.5 421.9 L852.5 421.5 L854.2 421.5 L854.2 420.5 L855.3 420.5 L855.3 419 L856.4 419 L856.4 416.1 L858 416.1 L858 411.3 L859.7 411.3 L859.7 407 L861.4 407 L861.4 403.8 L863.1 403.8 L863.1 400.1 L864.8 400.1 L864.8 397.4 L866.3 397.4 L866.3 395.3 L868.1 395.3 L868.1 393.3 L869.2 393.3 L869.2 392.1 L870.4 392.1 L870.4 391.1 L872.1 391.1 L872.1 389.8 L873.3 389.8 L873.3 388.3 L874.8 388.3 L874.8 387.7 L876.1 387.7 L876.1 386.3 L877.5 386.3 L877.5 384.8 L879.4 384.8 L879.4 383.9 L881 383.9 L881 383.3 L882.5 383.3 L882.5 381.1 L883.7 381.1 L883.7 380.5 L885.5 380.5 L885.5 379.4 L887.2 379.4 L887.2 378.7 L888.6 378.7 L888.6 377.8 L890.5 377.8 L890.5 380.1 L892.2 380.1 L892.2 381.6 L894.2 381.6 L894.2 383.9 L895.9 383.9 L895.9 387.7 L897.8 387.7 L897.8 392.6 L899.3 392.6 L899.3 395.5 L901 395.5 L901 395.4 L902.9 395.4 L902.9 393.6 L903.9 393.6 L903.9 390.2 L905.4 390.2 L905.4 385.2 L907 385.2 L907 381 L908.1 381 L908.1 375 L909.9 375 L909.9 365.6 L911.6 365.6 L911.6 355 L913.5 355 L913.5 350.2 L914.9 350.2 L914.9 349.2 L916.4 349.2 L916.4 349.7 L918.3 349.7 L918.3 348.5 L919.7 348.5 L919.7 349 L921.5 349 L921.5 348 L922.9 348 L922.9 346.7 L924.3 346.7 L924.3 346.7 L925.6 346.7 L925.6 349.7 L926.8 349.7 L926.8 354.2 L928.2 354.2 L928.2 358.2 L929.4 358.2 L929.4 361.3 L931.2 361.3 L931.2 357.9 L933.2 357.9 L933.2 354.7 L934.3 354.7 L934.3 353.1 L935.3 353.1 L935.3 352.9 L936.3 352.9 L936.3 351.7 L938.3 351.7 L938.3 341.3 L939.3 341.3 L939.3 330.3 L941 330.3 L941 329.1 L942.3 329.1 L942.3 328.5 L943.5 328.5 L943.5 324.9 L944.8 324.9 L944.8 301.6 L946 301.6 L946 320 L946 327.3 L944.9 327.3 L944.9 333.8 L943.1 333.8 L943.1 335.7 L941.1 335.7 L941.1 337.2 L940 337.2 L940 349.7 L938.4 349.7 L938.4 356.3 L937.2 356.3 L937.2 358.4 L936 358.4 L936 358 L934.8 358 L934.8 360.5 L933 360.5 L933 364.9 L931.1 364.9 L931.1 364.4 L929.2 364.4 L929.2 359.2 L927.3 359.2 L927.3 355 L925.6 352.8 L925.6 351.7 L923.7 351.7 L923.7 354.4 L922 354.4 L922 353.7 L920.4 353.7 L920.4 354.8 L918.5 354.8 L918.5 353.6 L916.9 353.6 L916.9 353.7 L915.5 353.7 L915.5 355.7 L913.9 355.7 L913.9 360.7 L912.7 360.7 L912.7 366.3 L911.5 366.4 L911.5 375 L910 375 L910 382.9 L908.7 382.9 L908.7 386.4 L907.6 386.4 L907.6 389 L906.5 389 L906.5 392.9 L905.3 392.9 L905.3 395.6 L904.3 395.6 L904.3 399.3 L902.8 399.3 L902.8 401.1 L901.1 401.1 L901.1 398.9 L899.2 398.9 L899.2 396.8 L898.2 396.8 L898.2 394 L897.2 394 L897.2 389.5 L895.5 389.5 L895.5 388.2 L893.7 388.2 L893.7 385.1 L892.5 385.1 L892.5 385.1 L890.5 385.1 L890.5 382.9 L888.6 382.9 L888.6 383.9 L887.4 383.9 L887.4 384.6 L886.1 384.6 L886.1 385.1 L884.9 385.1 L884.9 385.8 L883.7 385.8 L883.7 387.7 L882 387.7 L882 389 L880.5 389 L880.5 389.9 L878.5 389.9 L878.5 392.8 L876.5 392.8 L876.5 392.2 L875.5 392.2 L875.5 394.2 L874 394.2 L874 396.4 L872.3 396.4 L872.3 396.3 L870.9 396.3 L870.9 399.3 L869.1 399.3 L869.1 400 L867.7 400 L867.7 401.9 L866.2 401.9 L866.2 405.2 L864.7 405.2 L864.7 408.6 L863 408.6 L863 412.8 L861.6 412.8 L861.6 415.7 L860.2 415.7 L860.2 422 L858.3 422 L858.3 425.1 L856.6 425.1 L856.6 429 L855.2 429 L855.2 430.9 L853.6 430.9 L853.6 432.9 L852 432.9 L852 429.5 L850.6 429.5 L850.6 422 L848.7 422 L848.7 416.7 L846.9 416.7 L846.9 413.3 L845.4 413.3 L845.4 411.7 L844.4 411.7 L844.4 411.1 L842.7 411.1 L842.7 409.8 L841.6 409.8 L841.6 409.4 L840.3 409.4 L840.3 409.9 L838.4 409.9 L838.4 410.1 L836.7 410.1 L836.7 410.7 L834.8 410.7 L834.8 410.8 L833.7 410.8 L833.7 411.7 L831.8 411.7 L831.8 413.8 L830 413.8 L830 414.7 L828.9 414.7 L828.9 415.7 L827.6 415.7 L827.6 418.8 L826.1 418.8 L826.1 424.7 L824.1 424.7 L824.1 427.1 L822.5 427.1 L822.5 432.3 L820.9 432.3 L820.9 436.2 L819.3 436.2 L817.3 454.1 L815.3 449.1 L815.3 455.7 L813.4 455.7 L813.4 461.2 L811.8 461.2 L811.8 466.2 L810 466.2 L810 470.2 L808.2 470.2 L808.2 471.7 L807 471.7 L807 470.5 L805.4 470.5 L805.4 467.2 L803.7 467.2 L803.7 462.7 L801.7 462.7 L801.7 456.3 L799.9 456.3 L799.9 453 L798.8 453 L798.8 449.1 L797.4 449.1 L797.4 446.1 L795.8 446.1 L795.8 442.8 L794 442.8 L794 440.2 L792.3 440.2 L792.3 438.3 L790.9 438.3 L790.9 439 L789 439 L789 440.7 L787.6 440.7 L787.6 444 L786.3 444 L786.3 447.4 L784.6 447.4 L784.6 451.3 L782.8 451.3 L782.8 454.8 L781.4 454.8 L781.4 456.7 L780.1 456.7 L780.1 460.2 L778.5 460.2 L778.5 462.1 L777 462.1Z" fill="#a5000a"/>
<path d="M851.2 424L851.7 464" fill="none" stroke="#9a0008" stroke-width="2.2" stroke-linejoin="round" stroke-linecap="round"/>
<path d="M939 344L939.5 339.4L940 335.3L940.5 332L941 330L941.5 329.1L942 328.5L942.5 328.1L943 327.7L943.5 327.1L944 326L944.5 322.1L945 314.7L945.5 306" fill="none" stroke="#8c0008" stroke-width="3" stroke-linejoin="round" stroke-linecap="round"/>
<path d="M162.8 702.7 L166.3 702.7 L166.3 703.5 L169.8 703.5 L169.8 701.2 L172.5 701.2 L172.5 712.2 L176.2 712.2 L176.2 701.3 L179.3 701.3 L179.3 701.4 L182.5 701.4 L182.5 689.9 L184.7 689.9 L184.7 696.6 L186.8 696.6 L186.8 702.1 L188.9 702.1 L188.9 706.9 L192.7 706.9 L192.7 703.7 L196.2 703.7 L196.2 711.7 L199.9 711.7 L199.9 701.7 L203.5 701.7 L203.5 700.5 L207 700.5 L207 698.5 L209.6 698.5 L209.6 700.4 L213 700.4 L213 699.1 L214.9 699.1 L214.9 701.7 L218.1 701.7 L218.1 700.1 L219.7 700.1 L219.7 711 L223.6 711 L223.6 700.8 L227.3 700.8 L227.3 695.3 L229.2 695.3 L229.2 699.5 L232.6 699.5 L232.6 699.1 L236.2 699.1 L236.2 699.4 L237.8 699.4 L237.8 699.5 L240.7 699.5 L240.7 696.4 L243.2 696.4 L243.2 697 L246.3 697 L246.3 698.1 L250 698.1 L250 691.7 L253.3 691.7 L253.3 689.9 L255.3 689.9 L255.3 688.2 L258.2 688.2 L258.2 685.8 L261.1 685.8 L261.1 688.9 L262.7 688.9 L262.7 696 L264.5 696 L264.5 686.5 L265 686.5 L265 737.3 L265 737.3 L264.3 737.3 L264.3 737.3 L261.2 737.3 L261.2 737.3 L259.5 737.3 L259.5 737.3 L256 737.3 L256 737.3 L254 737.3 L254 737.3 L250.8 737.3 L250.8 737.3 L249.3 737.3 L249.3 737.3 L245.4 737.3 L245.4 737.3 L243.6 737.3 L243.6 737.3 L240.7 737.3 L240.7 737.3 L237.1 737.3 L237.1 737.3 L233.4 737.3 L233.4 737.3 L230.6 737.3 L230.6 737.3 L228.9 737.3 L228.9 737.3 L226.1 737.3 L226.1 737.3 L222.4 737.3 L222.4 737.3 L219.7 737.3 L219.7 737.3 L218.1 737.3 L218.1 737.3 L214.2 737.3 L214.2 737.3 L211.8 737.3 L211.8 737.3 L207.8 737.3 L207.8 737.3 L204.2 737.3 L204.2 737.3 L200.7 737.3 L200.7 737.3 L198.3 737.3 L198.3 737.3 L195.9 737.3 L195.9 737.3 L192.6 737.3 L192.6 737.3 L189.8 737.3 L189.8 737.3 L186 737.3 L186 737.3 L184.3 737.3 L184.3 737.3 L181 737.3 L181 737.3 L177.4 737.3 L177.4 737.3 L174.2 737.3 L174.2 737.3 L171.8 737.3 L171.8 737.3 L169.7 737.3 L169.7 737.3 L167.8 737.3 L167.8 737.3 L166.2 737.3 L166.2 737.3 L162.8 737.3Z" fill="#cc0000"/>
<path d="M262 684.9 L264.6 684.9 L264.6 685.5 L265.6 685.5 L265.6 684.5 L268.5 684.5 L268.5 684.5 L271.2 684.5 L271.2 682.5 L274.1 682.5 L274.1 682.7 L276.6 682.7 L276.6 680.1 L278.4 680.1 L278.4 681.1 L279.9 681.1 L279.9 679.6 L282.7 679.6 L282.7 673.4 L284.6 673.4 L284.6 678.6 L286.6 678.6 L286.6 678.8 L289 678.8 L289 675.2 L291.3 675.2 L291.3 676.8 L293.7 676.8 L293.7 674.3 L296 674.3 L296 676.4 L298 676.4 L298 672.5 L300.5 672.5 L300.5 672.8 L302.3 672.8 L302.3 671.7 L303.8 671.7 L303.8 674.4 L306.6 674.4 L306.6 670.7 L309.3 670.7 L309.3 671.4 L311.8 671.4 L311.8 670.3 L313.1 670.3 L313.1 668.7 L314.2 668.7 L314.2 669.6 L317 669.6 L317 669.8 L319.9 669.8 L319.9 668.3 L321.5 668.3 L321.5 668.7 L323.7 668.7 L323.7 666.8 L324.8 666.8 L324.8 666.6 L326.6 666.6 L326.6 665 L329 665 L329 664.3 L330 664.3 L330 678.2 L330 683.1 L328.7 683.1 L328.7 684 L326 684 L326 684.6 L324.4 684.6 L324.4 690.4 L322.6 690.4 L322.6 688.6 L321 688.6 L321 690.1 L318.4 690.1 L318.4 694.5 L317 694.5 L317 695.4 L315.7 695.4 L312.8 708.8 L309.9 692.9 L309.9 693.7 L308.7 693.7 L308.7 695.6 L306.3 695.6 L306.3 697.4 L303.4 697.4 L303.4 700.4 L300.6 700.4 L300.6 703.3 L299.4 703.3 L299.4 701.7 L296.9 701.7 L296.9 702.8 L294 702.8 L294 706.5 L291.3 706.5 L291.3 705.1 L289.6 705.1 L289.6 705.5 L287.8 705.5 L287.8 707.8 L285.3 707.8 L285.3 711.3 L283.6 711.3 L283.6 710.3 L282.1 710.3 L282.1 711.3 L280.3 711.3 L278.7 718 L277 713 L277 717.1 L276 717.1 L273.6 729.9 L271.3 718.4 L271.3 720.8 L269.9 720.8 L269.9 723.8 L267.4 723.8 L264.7 737.3 L262 737.3Z" fill="#c20000"/>
<path d="M329 660 L331.2 660 L331.2 660.5 L333.5 660.5 L333.5 657.8 L335.1 657.8 L335.1 659 L338.1 659 L338.1 655 L339.5 655 L339.5 657.4 L341.6 657.4 L341.6 656.1 L344 656.1 L344 658.8 L346.6 658.8 L346.6 658.6 L349.2 658.6 L349.2 658.8 L351 658.8 L351 661.4 L352.5 661.4 L352.5 662.4 L355.5 662.4 L355.5 663.4 L357.6 663.4 L357.6 662.8 L359.1 662.8 L359.1 661.5 L360.4 661.5 L360.4 660 L363 660 L363 655.2 L365.7 655.2 L365.7 658.1 L367.9 658.1 L367.9 656.8 L369.6 656.8 L369.6 656.6 L372 656.6 L372 653.8 L374.9 653.8 L374.9 655.7 L377.1 655.7 L377.1 655.1 L379.6 655.1 L379.6 656.9 L382.4 656.9 L382.4 654.8 L384.9 654.8 L384.9 653.3 L386.9 653.3 L386.9 654 L388.3 654 L388.3 652.1 L390.6 652.1 L390.6 652.3 L393.3 652.3 L393.3 650.7 L396.2 650.7 L396.2 653.4 L397.5 653.4 L397.5 652.4 L398.8 652.4 L398.8 650.5 L401 650.5 L401 651.1 L403.7 651.1 L403.7 651.6 L404.8 651.6 L404.8 650.9 L407.1 650.9 L407.1 650.5 L408.6 650.5 L408.6 648.9 L411.6 648.9 L411.6 648.8 L413.3 648.8 L413.3 648.5 L414.5 648.5 L414.5 649 L417.1 649 L417.1 648 L418.7 648 L418.7 647.6 L420.5 647.6 L420.5 649.6 L421.8 649.6 L421.8 647.8 L423.4 647.8 L423.4 646 L424.7 646 L424.7 649.1 L426.2 649.1 L426.2 649.9 L428.4 649.9 L428.4 651.1 L430 651.1 L430 650.6 L432.3 650.6 L432.3 651.3 L435.1 651.3 L435.1 650.4 L437.2 650.4 L437.2 649.1 L438.3 649.1 L438.3 652.7 L441.2 652.7 L441.2 654.1 L442.6 654.1 L442.6 654.3 L444.3 654.3 L444.3 655.4 L446.4 655.4 L446.4 654 L448.6 654 L448.6 654.2 L450.3 654.2 L450.3 655.2 L452.2 655.2 L452.2 654.7 L454.4 654.7 L454.4 654.9 L456.3 654.9 L456.3 654.3 L457.9 654.3 L457.9 656.4 L459.7 656.4 L459.7 650.5 L461.5 650.5 L461.5 656.5 L463.1 656.5 L463.1 655 L465.3 655 L465.3 657.6 L467.3 657.6 L467.3 656 L469.1 656 L469.1 658 L471.5 658 L471.5 656.2 L474.2 656.2 L474.2 657.6 L476.5 657.6 L476.5 659.3 L478.1 659.3 L478.1 657.9 L481 657.9 L481 659 L482.2 659 L482.2 658.8 L484.8 658.8 L484.8 657.4 L486.7 657.4 L486.7 660.1 L488.5 660.1 L488.5 660.5 L491.2 660.5 L491.2 659.5 L493.5 659.5 L493.5 661.4 L496.4 661.4 L496.4 660.5 L499.2 660.5 L499.2 660.6 L500.4 660.6 L500.4 661.8 L502.4 661.8 L502.4 661.5 L505 661.5 L505 664.4 L506.1 664.4 L506.1 661.2 L508.2 661.2 L508.2 663.6 L511.2 663.6 L511.2 664.2 L512.7 664.2 L512.7 661.7 L513.9 661.7 L513.9 662.2 L515.5 662.2 L515.5 664.5 L517.2 664.5 L517.2 663.9 L518.7 663.9 L518.7 665 L520.6 665 L520.6 666.1 L523.3 666.1 L523.3 665.2 L525.3 665.2 L525.3 665 L527.5 665 L527.5 663.9 L528.7 663.9 L528.7 666.8 L529.8 666.8 L529.8 666.2 L532.7 666.2 L532.7 667.8 L534.4 667.8 L534.4 668.2 L537.3 668.2 L537.3 667.2 L539 667.2 L539 670.4 L541.3 670.4 L541.3 670.2 L543.6 670.2 L543.6 670.3 L544.8 670.3 L544.8 668.6 L545.9 668.6 L545.9 669.6 L547.8 669.6 L547.8 669.7 L549.1 669.7 L549.1 670 L550.6 670 L550.6 669.6 L552 669.6 L552 671.3 L553.7 671.3 L553.7 671.4 L555.6 671.4 L555.6 671.8 L557.2 671.8 L557.2 671.2 L558.9 671.2 L558.9 673.1 L560.8 673.1 L560.8 672.5 L563.2 672.5 L563.2 670.2 L564.3 670.2 L564.3 672.4 L567.3 672.4 L567.3 673.3 L569.1 673.3 L569.1 674.7 L572 674.7 L572 673.9 L573 673.9 L573 674.1 L574.1 674.1 L574.1 673.9 L575.3 673.9 L575.3 675.5 L578.1 675.5 L578.1 674.9 L580 674.9 L580 675.2 L582.7 675.2 L582.7 675.5 L585.1 675.5 L585.1 676.9 L586.2 676.9 L586.2 676.2 L588 676.2 L588 675.5 L589.6 675.5 L589.6 677.7 L590 677.7 L590 699.9 L590 702 L589 702 L586.2 710.5 L583.4 697.3 L583.4 698.4 L581.7 698.4 L581.7 695.6 L579.2 695.6 L576.2 706 L573.2 693 L572.1 703.9 L571 692 L571 693 L569.1 693 L567.2 699.6 L565.4 689.8 L565.4 691 L563.9 691 L563.9 690.8 L561.2 690.8 L561.2 689.1 L558.2 689.1 L558.2 690.7 L555.9 690.7 L555.9 690.2 L554.7 690.2 L554.7 692 L552 692 L552 687.6 L550.2 687.6 L550.2 685.4 L549 685.4 L549 685.5 L547.6 685.5 L547.6 685.2 L546.1 685.2 L546.1 684.2 L544.1 684.2 L544.1 685.5 L541.7 685.5 L541.7 686.2 L539.3 686.2 L539.3 682.8 L537.4 682.8 L537.4 682.9 L536 682.9 L536 682 L533.3 682 L533.3 683.4 L531 683.4 L528.6 686.8 L526.2 680.4 L526.2 681.9 L524.5 681.9 L524.5 679.8 L522.6 679.8 L522.6 681.5 L521.2 681.5 L521.2 680.4 L519.4 680.4 L519.4 681.6 L517.9 681.6 L517.9 680.6 L516.5 680.6 L516.5 679.8 L515.1 679.8 L515.1 677.4 L513 677.4 L513 679.4 L510.2 679.4 L507.5 683.7 L504.9 674.7 L504.9 675.1 L503.4 675.1 L503.4 673.7 L501.7 673.7 L501.7 675.4 L498.7 675.4 L495.9 680.1 L493 671.1 L491 683.3 L489.1 670.4 L487.4 678 L485.6 669.8 L485.6 670.4 L484.1 670.4 L484.1 670.8 L481.4 670.8 L478.9 677.7 L476.5 668.6 L476.5 672.2 L475.3 672.2 L475.3 668.4 L474.2 668.4 L474.2 669.7 L471.5 669.7 L470.1 674.6 L468.7 667.6 L465.8 671.3 L462.9 666.7 L462.9 670 L461.2 670 L461.2 668.2 L459.3 668.2 L459.3 667.6 L456.9 667.6 L456.9 665.8 L454.8 665.8 L454.8 668.5 L453.7 668.5 L453.7 665.8 L451.7 665.8 L451.7 666 L449.9 666 L447.2 671.5 L444.5 663.9 L444.5 664.9 L442.7 664.9 L442.7 665.2 L439.9 665.2 L439.9 663.2 L437.8 663.2 L437.8 663.5 L436.4 663.5 L436.4 663.9 L434.9 663.9 L434.9 662.4 L433.4 662.4 L433.4 663.9 L432 663.9 L432 661.7 L430.4 661.7 L430.4 660.6 L427.9 660.6 L427.9 661.6 L426.3 661.6 L426.3 661.5 L424.7 661.5 L424.7 660 L423.6 660 L423.6 661.7 L420.9 661.7 L419.3 669.3 L417.6 659.5 L417.6 660.5 L416.1 660.5 L416.1 660.2 L413.9 660.2 L413.9 662 L412.6 662 L412.6 662.7 L411.4 662.7 L411.4 662.4 L408.4 662.4 L408.4 661.8 L405.9 661.8 L405.9 662.6 L404.1 662.6 L404.1 663 L403 663 L403 662.6 L401.9 662.6 L401.9 662.5 L399.9 662.5 L399.9 663.8 L397 663.8 L397 663.1 L395.4 663.1 L395.4 664.9 L394.1 664.9 L394.1 663.9 L392.1 663.9 L392.1 663.8 L391.1 663.8 L391.1 665.2 L389.6 665.2 L389.6 663.6 L387.7 663.6 L387.7 664.1 L386.7 664.1 L385 671 L383.2 664 L383.2 666.2 L381.4 666.2 L379.2 676 L377 664.6 L377 665.1 L374.8 665.1 L374.8 665.4 L373.2 665.4 L373.2 665.6 L371.8 665.6 L371.8 667.4 L369.9 667.4 L369.9 667.7 L368 667.7 L368 671.6 L365 671.6 L365 672.6 L362.2 672.6 L362.2 672.7 L359.9 672.7 L359.9 674.4 L358 674.4 L358 676.1 L356.6 676.1 L356.6 676.8 L354.5 676.8 L351.8 675.3 L349.2 671.1 L349.2 670.9 L347.8 670.9 L347.8 670.7 L345.5 670.7 L345.5 668.4 L342.7 668.4 L342.7 666.9 L340.8 666.9 L340.8 666.6 L339.7 666.6 L339.7 667.8 L338.5 667.8 L338.5 668.3 L337.1 668.3 L337.1 670.1 L335.5 670.1 L335.5 673.3 L333.2 673.3 L333.2 677 L331.7 677 L331.7 681.7 L330.5 681.7 L330.5 682.3 L329 682.3Z" fill="#ac000c"/>
<path d="M589 676.8 L591.6 676.8 L591.6 676.2 L593.3 676.2 L593.3 677.7 L594.5 677.7 L594.5 677.8 L595.8 677.8 L595.8 679.2 L597.6 679.2 L597.6 678.1 L600.3 678.1 L600.3 678.5 L601.4 678.5 L601.4 679.7 L603.3 679.7 L603.3 678.7 L605 678.7 L605 679.4 L607.8 679.4 L607.8 681.6 L609.1 681.6 L609.1 681.6 L611.4 681.6 L611.4 681 L613.1 681 L613.1 681 L615.4 681 L615.4 680.1 L618 680.1 L618 682 L620.7 682 L620.7 681.8 L623.3 681.8 L623.3 682.3 L624.9 682.3 L624.9 681.7 L626.5 681.7 L626.5 682.4 L627.7 682.4 L627.7 682.4 L629.2 682.4 L629.2 682.9 L630.5 682.9 L630.5 684.4 L633 684.4 L633 683.5 L634.1 683.5 L634.1 681.6 L635.5 681.6 L635.5 682.5 L638.1 682.5 L638.1 682 L640.6 682 L640.6 683 L643.6 683 L643.6 684.5 L645.4 684.5 L645.4 684.4 L646.4 684.4 L646.4 683.5 L649.1 683.5 L649.1 684.4 L650.6 684.4 L650.6 683.5 L653.2 683.5 L653.2 682.9 L654.2 682.9 L654.2 683 L655.3 683 L655.3 683.6 L657.5 683.6 L657.5 685.9 L659.8 685.9 L659.8 683.2 L660 683.2 L660 711.2 L660 715.2 L658.1 715.2 L658.1 712.5 L655.8 712.5 L655.8 711 L652.9 711 L652.9 710 L650.5 710 L650.5 711.5 L648.8 711.5 L648.8 712.6 L646.9 712.6 L646.9 710.8 L645.2 710.8 L645.2 715.3 L643.2 715.3 L643.2 710.1 L641 710.1 L641 709.5 L638.9 709.5 L636.6 717.9 L634.2 707.7 L634.2 708.3 L632.6 708.3 L632.6 707.8 L629.7 707.8 L629.7 710.2 L626.9 710.2 L626.9 709.7 L625.5 709.7 L625.5 710.7 L624.1 710.7 L624.1 707.2 L622 707.2 L622 706.2 L619.3 706.2 L619.3 708.5 L617.8 708.5 L617.8 707.9 L615.3 707.9 L612.4 711.7 L609.4 704.3 L607.3 717.1 L605.2 703.5 L605.2 704.3 L603.7 704.3 L603.7 704.3 L602 704.3 L602 703.4 L600.4 703.4 L600.4 708 L597.7 708 L597.7 701.6 L595.5 701.6 L595.5 703.8 L594.4 703.8 L594.4 703.1 L593.4 703.1 L593.4 702.6 L591.9 702.6 L591.9 703.8 L589 703.8Z" fill="#c00004"/>
<path d="M659 684.1 L661.7 684.1 L661.7 682.1 L663.8 682.1 L663.8 683.9 L666.6 683.9 L666.6 685.8 L669.2 685.8 L669.2 685.1 L671.9 685.1 L671.9 684.1 L672.9 684.1 L672.9 685.2 L674 685.2 L674 682.9 L676.2 682.9 L676.2 684.6 L677.9 684.6 L677.9 685.5 L680.6 685.5 L680.6 685.6 L682.4 685.6 L682.4 684.2 L684.9 684.2 L684.9 685.9 L686.4 685.9 L686.4 686.8 L688.7 686.8 L688.7 684.5 L691.5 684.5 L691.5 685.7 L694.2 685.7 L694.2 683.4 L695.9 683.4 L695.9 683 L697.9 683 L697.9 685.6 L700 685.6 L700 685 L701.6 685 L701.6 685.1 L703.6 685.1 L703.6 684.4 L706.5 684.4 L706.5 684.7 L709.3 684.7 L709.3 685.8 L710.9 685.8 L710.9 686.7 L713.3 686.7 L713.3 684.7 L716.2 684.7 L716.2 683.3 L717.9 683.3 L717.9 686.2 L720.6 686.2 L720.6 685.5 L723.2 685.5 L723.2 685.6 L726 685.6 L726 681.1 L727.2 681.1 L727.2 687.1 L730 687.1 L730 680.4 L733 680.4 L733 685.2 L734.4 685.2 L734.4 682.7 L736.7 682.7 L736.7 683.9 L737.9 683.9 L737.9 683.8 L740.1 683.8 L740.1 684.3 L742.5 684.3 L742.5 680.1 L745 680.1 L745 683.3 L747.7 683.3 L747.7 685.7 L749.3 685.7 L749.3 682.8 L750.5 682.8 L750.5 683.3 L753.2 683.3 L753.2 683.9 L754.2 683.9 L754.2 682.3 L755.7 682.3 L755.7 684 L757.2 684 L757.2 684 L759.7 684 L759.7 682.9 L761.6 682.9 L761.6 684.9 L764.3 684.9 L764.3 682.9 L766.6 682.9 L766.6 682.7 L769.3 682.7 L769.3 681 L771.9 681 L771.9 679.8 L774.6 679.8 L774.6 680.3 L776.2 680.3 L776.2 680.2 L777.9 680.2 L777.9 679.6 L780.1 679.6 L780.1 680.3 L782.3 680.3 L782.3 676.6 L784.9 676.6 L784.9 677.6 L785 677.6 L785 703.6 L785 704.2 L783.2 704.2 L783.2 706.7 L782.2 706.7 L780.3 715.9 L778.5 705.8 L775.1 713.7 L771.7 708.3 L770.5 737.3 L769.2 737.3 L768 709.3 L765.1 719 L762.2 710.1 L759.4 727.8 L756.7 710.5 L756.7 711.1 L755.1 711.1 L755.1 715.6 L753 715.6 L751.9 725.3 L750.9 710.8 L750.9 712.8 L748.6 712.8 L746.5 724.5 L744.3 711.1 L744.3 712.5 L742.7 712.5 L739.6 722.8 L736.5 711.4 L736.5 715.4 L735 715.4 L735 715.2 L733.1 715.2 L733.1 714.9 L732 714.9 L730.8 737.3 L728.2 737.3 L727 711.7 L727 714 L725.9 714 L725.9 713.5 L723.1 713.5 L723.1 714.6 L721.3 714.6 L721.3 717.9 L719.1 717.9 L715.8 729.9 L712.5 712.1 L712.5 713.7 L710.8 713.7 L710.8 716.4 L708.9 716.4 L708.9 716.5 L706.6 716.5 L706.6 714.3 L704.9 714.3 L704.9 713 L703.9 713 L701.9 721.5 L699.8 712.6 L699.8 716.2 L697.3 716.2 L697.3 717.4 L694.9 717.4 L692.8 726.4 L690.7 712.9 L690.7 717.2 L689.2 717.2 L686 726.5 L682.8 713 L679.9 729.5 L676.9 712.9 L676.9 717.2 L675.4 717.2 L672.6 723.1 L669.7 712.4 L669.7 715.3 L667.2 715.3 L667.2 712.8 L665 712.8 L662.9 728.4 L660.8 711.3 L660.8 713 L659 713Z" fill="#cc0000"/>
<path d="M784 679.8 L786.4 679.8 L786.4 676.3 L788.3 676.3 L788.3 677.3 L790 677.3 L790 678.1 L791.3 678.1 L791.3 677.2 L792.8 677.2 L792.8 677.8 L795.6 677.8 L795.6 676.8 L797.5 676.8 L797.5 676.2 L799.1 676.2 L799.1 678.1 L800.6 678.1 L800.6 675.9 L803.3 675.9 L803.3 675.6 L805.7 675.6 L805.7 674.5 L808.1 674.5 L808.1 670.3 L810.7 670.3 L810.7 675.2 L812.2 675.2 L812.2 674.8 L814.7 674.8 L814.7 674.1 L815.8 674.1 L815.8 673.3 L818.1 673.3 L818.1 674.1 L819.8 674.1 L819.8 671.9 L822.1 671.9 L822.1 672.7 L823.6 672.7 L823.6 672.5 L825.3 672.5 L825.3 671.7 L827.6 671.7 L827.6 672.1 L830.5 672.1 L830.5 671.1 L832.2 671.1 L832.2 670.7 L833.5 670.7 L833.5 672.6 L834.8 672.6 L834.8 671.4 L837.1 671.4 L837.1 671.4 L839.9 671.4 L839.9 670.1 L840.9 670.1 L840.9 670.6 L842.6 670.6 L842.6 670.2 L843.9 670.2 L843.9 670.2 L846.9 670.2 L846.9 670.7 L848.1 670.7 L848.1 668.4 L849.3 668.4 L849.3 668.5 L851.8 668.5 L851.8 667.7 L854.8 667.7 L854.8 664.3 L857.3 664.3 L857.3 665.5 L858.6 665.5 L858.6 666.2 L860.4 666.2 L860.4 666.2 L862.4 666.2 L862.4 664.5 L865.2 664.5 L865.2 665 L867.7 665 L867.7 664.4 L868.9 664.4 L868.9 662.5 L870.8 662.5 L870.8 663.1 L873.3 663.1 L873.3 662.4 L875.4 662.4 L875.4 660.3 L877.7 660.3 L877.7 658.1 L880 658.1 L880 671.5 L879.2 680.9 L876.8 673.3 L876.8 676.6 L874.6 676.6 L872 681.6 L869.3 677 L869.3 681 L866.8 681 L866.8 682.9 L865.1 682.9 L865.1 680.5 L862.5 680.5 L862.5 685.8 L859.8 685.8 L859.8 686.2 L858.5 686.2 L858.5 684.8 L857.4 684.8 L857.4 683.9 L856 683.9 L856 688.1 L854.9 688.1 L854.9 685.5 L853.7 685.5 L853.7 685.5 L852.7 685.5 L852.7 686.7 L851.4 686.7 L851.4 689.5 L850.2 689.5 L850.2 687.8 L849 687.8 L849 692 L847.6 692 L847.6 690.8 L846.3 690.8 L846.3 691.4 L843.6 691.4 L843.6 692.1 L840.7 692.1 L840.7 693.3 L838.6 693.3 L837 700.9 L835.4 693.9 L835.4 697.1 L832.6 697.1 L832.6 696.5 L830.6 696.5 L830.6 698.4 L829.4 698.4 L826.6 705.9 L823.8 696.7 L823.8 703 L821.7 703 L821.7 697.7 L819.5 697.7 L817.2 704.2 L814.9 698.3 L814.9 702.6 L812.7 702.6 L812.7 700.6 L810.7 700.6 L810.7 701.8 L807.8 701.8 L807.8 701 L806.4 701 L806.4 702.7 L804.8 702.7 L804.8 700.6 L803.7 700.6 L803.7 705.4 L801.7 705.4 L801.7 703.4 L798.7 703.4 L796.5 707.2 L794.2 701.7 L794.2 702.3 L791.4 702.3 L791.4 705.9 L788.8 705.9 L788.8 704.4 L786.5 704.4 L785.3 712.1 L784 703.9Z" fill="#c00004"/>
<path d="M879 658 L880.1 658 L880.1 656.2 L881.7 656.2 L881.7 657.6 L884 657.6 L884 656.7 L885.2 656.7 L885.2 654.1 L887.9 654.1 L887.9 652.8 L889 652.8 L889 652 L890.5 652 L890.5 650.1 L892.1 650.1 L892.1 648.8 L893.2 648.8 L893.2 647.3 L896.1 647.3 L896.1 645.3 L899 645.3 L899 641.9 L901.8 641.9 L901.8 640.1 L903.2 640.1 L903.2 638.2 L905.9 638.2 L905.9 635.8 L907.6 635.8 L907.6 636.3 L909.2 636.3 L909.2 632.6 L911.5 632.6 L911.5 632.5 L912.7 632.5 L912.7 632.5 L913.7 632.5 L913.7 630.1 L916.6 630.1 L916.6 629.8 L918.3 629.8 L918.3 628.8 L920.9 628.8 L920.9 626 L922.7 626 L922.7 625.4 L923.9 625.4 L923.9 623.4 L925.9 623.4 L925.9 622.9 L927.2 622.9 L927.2 621.4 L928.4 621.4 L928.4 620.4 L929.4 620.4 L929.4 619.5 L931.2 619.5 L931.2 616.4 L932.7 616.4 L932.7 613.8 L934.4 613.8 L934.4 608.6 L937.3 608.6 L937.3 602.4 L940 602.4 L940 601 L942.4 601 L942.4 599.7 L943.9 599.7 L943.9 577.8 L946 577.8 L946 590 L946 614.9 L944.1 614.9 L944.1 621.6 L942 621.6 L942 623.7 L939 623.7 L939 629.2 L937.2 629.2 L937.2 626.5 L936 626.5 L936 628.8 L933.4 628.8 L933.4 631 L931.4 631 L931.4 634.1 L928.6 634.1 L928.6 634 L926.4 634 L926.4 637.1 L923.4 637.1 L923.4 637.9 L921.5 637.9 L921.5 639.4 L920 639.4 L920 642.5 L917.3 642.5 L917.3 642.6 L914.9 642.6 L914.9 645.4 L912 645.4 L912 646.4 L910 646.4 L910 649.7 L908.5 649.7 L908.5 648.8 L907.1 648.8 L907.1 650.8 L904.8 650.8 L904.8 654.6 L902.3 654.6 L902.3 654 L901.2 654 L901.2 656.1 L899.1 656.1 L899.1 659.1 L896.5 659.1 L896.5 661.4 L894.2 661.4 L894.2 664.1 L892 664.1 L892 664 L890.8 664 L890.8 666.2 L888.6 666.2 L888.6 667.3 L887.4 667.3 L887.4 669.4 L885.1 669.4 L885.1 671.8 L882.9 671.8 L882.9 671.3 L881.8 671.3 L881.8 672.9 L879 672.9Z" fill="#a8000c"/>
<path d="M986.3 221 L988.5 221 L988.5 224.1 L990.3 224.1 L990.3 221.1 L991.9 221.1 L991.9 231.1 L993.7 231.1 L993.7 218.6 L995.7 218.6 L995.7 227.5 L998 227.5 L998 220.2 L1000.3 220.2 L1000.3 220.3 L1003.1 220.3 L1003.1 231.2 L1006.2 231.2 L1006.2 222.5 L1009.6 222.5 L1009.6 222.7 L1012.3 222.7 L1012.3 220.6 L1013.9 220.6 L1013.9 221.2 L1016.4 221.2 L1016.4 224.4 L1018.4 224.4 L1018.4 219.1 L1020 219.1 L1020 221.1 L1021.9 221.1 L1021.9 221.4 L1023.4 221.4 L1023.4 220.8 L1025.8 220.8 L1025.8 221.5 L1027 221.5 L1027 220.6 L1029.3 220.6 L1029.3 229.7 L1031.3 229.7 L1031.3 222 L1032.4 222 L1032.4 224.3 L1033 224.3 L1033 243.6 L1033 243.6 L1031.5 243.6 L1031.5 243.6 L1030.3 243.6 L1030.3 243.6 L1028.4 243.6 L1028.4 243.6 L1025.3 243.6 L1025.3 243.6 L1022.8 243.6 L1022.8 243.6 L1020.4 243.6 L1020.4 243.6 L1018.2 243.6 L1018.2 243.6 L1015.6 243.6 L1015.6 243.6 L1013.1 243.6 L1013.1 243.6 L1010.3 243.6 L1010.3 243.6 L1008.7 243.6 L1008.7 243.6 L1007 243.6 L1007 243.6 L1004.7 243.6 L1004.7 243.6 L1002.3 243.6 L1002.3 243.6 L999 243.6 L999 243.6 L997.6 243.6 L997.6 243.6 L996.1 243.6 L996.1 243.6 L992.7 243.6 L992.7 243.6 L989.5 243.6 L989.5 243.6 L988.5 243.6 L988.5 243.6 L987.3 243.6 L987.3 243.6 L986.3 243.6Z" fill="#c00000"/>
<path d="M1033 241.1 L1036.5 241.1 L1036.5 238.7 L1038.3 238.7 L1038.3 238.1 L1040.1 238.1 L1040.1 236.4 L1043.2 236.4 L1043.2 239.2 L1046.5 239.2 L1046.5 236.1 L1048.2 236.1 L1048.2 237.4 L1049.8 237.4 L1049.8 237 L1052.1 237 L1052.1 242.4 L1054.4 242.4 L1054.4 239.1 L1056.1 239.1 L1056.1 237.2 L1057.8 237.2 L1057.8 238.7 L1059.8 238.7 L1059.8 239 L1061.4 239 L1061.4 236.4 L1063.2 236.4 L1063.2 238 L1064.8 238 L1064.8 240 L1067.2 240 L1067.2 240.2 L1070.6 240.2 L1070.6 237.8 L1073.7 237.8 L1073.7 238.5 L1076.8 238.5 L1076.8 240.8 L1079.4 240.8 L1079.4 242 L1081.4 242 L1081.4 243.1 L1083 243.1 L1083 239.2 L1085 239.2 L1085 241 L1088.9 241 L1088.9 238.7 L1092.4 238.7 L1092.4 237.1 L1095.3 237.1 L1095.3 235.9 L1098.3 235.9 L1098.3 237 L1101.7 237 L1101.7 230.2 L1105.3 230.2 L1105.3 238 L1107.4 238 L1107.4 233.1 L1110.9 233.1 L1110.9 234.9 L1114 234.9 L1114 236.9 L1116.2 236.9 L1116.2 234.4 L1118.4 234.4 L1118.4 234.4 L1120.3 234.4 L1120.3 235 L1123.2 235 L1123.2 232.4 L1127.1 232.4 L1127.1 235.7 L1130.6 235.7 L1130.6 236.8 L1132.5 236.8 L1132.5 238.4 L1134.3 238.4 L1134.3 239.2 L1136.5 239.2 L1136.5 239.9 L1138.4 239.9 L1138.4 237.6 L1140.3 237.6 L1140.3 240.3 L1143.6 240.3 L1143.6 241.2 L1145.9 241.2 L1145.9 243.1 L1148.8 243.1 L1148.8 239.8 L1151.1 239.8 L1151.1 243.1 L1155.1 243.1 L1155.1 243.1 L1158 243.1 L1158 243.9 L1158 243.9 L1154.9 243.9 L1154.9 243.9 L1152 243.9 L1152 243.9 L1148.8 243.9 L1148.8 243.9 L1145.8 243.6 L1145.8 243.6 L1143.7 243.6 L1143.7 243.6 L1140.5 243.6 L1140.5 243.6 L1137.1 243.6 L1137.1 243.6 L1134.4 243.6 L1134.4 243.6 L1131.9 243.6 L1131.9 243.6 L1130.4 243.6 L1130.4 243.6 L1128.7 243.6 L1128.7 243.6 L1126 243.6 L1126 243.6 L1123.6 243.6 L1123.6 243.6 L1120.1 243.6 L1120.1 243.6 L1117 243.6 L1117 243.6 L1114.9 243.6 L1114.9 243.6 L1112.8 243.6 L1112.8 243.6 L1109.5 243.6 L1109.5 243.6 L1105.7 243.6 L1105.7 243.6 L1104 243.6 L1104 243.6 L1101 243.6 L1101 243.6 L1099 243.6 L1099 243.6 L1097.5 243.6 L1097.5 243.6 L1095.6 243.6 L1095.6 243.6 L1093.5 243.6 L1093.5 243.6 L1091.9 243.6 L1091.9 243.6 L1088.2 243.6 L1088.2 243.6 L1085.9 243.6 L1085.9 243.6 L1084 243.6 L1084 243.6 L1081.5 243.9 L1081.5 243.9 L1078 243.6 L1078 243.6 L1074.7 243.6 L1074.7 243.6 L1073.1 243.6 L1073.1 243.6 L1069.3 243.6 L1069.3 243.6 L1066.5 243.6 L1066.5 243.6 L1063.5 243.6 L1063.5 243.6 L1059.6 243.6 L1059.6 243.6 L1055.8 243.6 L1055.8 243.6 L1053.3 243.6 L1053.3 243.6 L1050.2 243.6 L1050.2 243.6 L1048.7 243.6 L1048.7 243.6 L1047.1 243.6 L1047.1 243.6 L1045.4 243.6 L1045.4 243.6 L1041.6 243.6 L1041.6 243.6 L1038.8 243.6 L1038.8 243.6 L1035.2 243.6 L1035.2 243.6 L1033 243.6Z" fill="#9a0008"/>
<path d="M1156 237.4 L1158.5 237.4 L1158.5 234.1 L1160.6 234.1 L1160.6 233 L1161.8 233 L1161.8 230.4 L1163.2 230.4 L1163.2 227.7 L1166.2 227.7 L1166.2 225.4 L1168 225.4 L1168 223.3 L1170.3 223.3 L1170.3 220.9 L1171.5 220.9 L1171.5 221.3 L1173.7 221.3 L1173.7 218.2 L1175.9 218.2 L1175.9 218.8 L1178.4 218.8 L1178.4 217.5 L1181.4 217.5 L1181.4 214.6 L1183.3 214.6 L1183.3 213.1 L1184.9 213.1 L1184.9 212.1 L1186.2 212.1 L1186.2 209.2 L1187.9 209.2 L1187.9 208.7 L1189.8 208.7 L1189.8 206.7 L1192.7 206.7 L1192.7 200.8 L1194.7 200.8 L1194.7 204.3 L1197.1 204.3 L1197.1 202.6 L1199.5 202.6 L1199.5 201 L1200 201 L1200 208.5 L1200 208.9 L1199.7 208.9 L1199.7 210.1 L1198.2 210.1 L1198.2 210.2 L1195.9 210.2 L1195.9 212.5 L1193.8 212.5 L1193.8 214.2 L1192 214.2 L1192 214.2 L1190.9 214.2 L1190.9 217.9 L1188.9 217.9 L1188.9 218.5 L1186.5 218.5 L1186.5 222.7 L1184.6 222.7 L1184.6 226.8 L1182.1 226.8 L1182.1 229.5 L1180.4 229.5 L1180.4 231.6 L1179.4 231.6 L1179.4 238.3 L1176.9 238.3 L1176.9 241.5 L1174.1 241.5 L1174.1 243.6 L1171.9 243.6 L1171.9 245 L1169.4 245 L1169.4 244.8 L1167.6 244.8 L1167.6 244.9 L1164.9 244.9 L1164.9 245.1 L1162.6 245.1 L1162.6 244.3 L1159.7 244.3 L1159.7 243.6 L1158.1 243.6 L1158.1 243.9 L1156 243.9Z" fill="#a5000a"/>
<path d="M1195 205L1195.5 204.8L1196 204.6L1196.5 204.4L1197 204.2L1197.5 204L1198 203.9L1198.5 203.7L1199 203.6L1199.5 203.4L1200 203.3L1200.5 203.2L1201 203.1L1201.5 203L1202 202.9L1202.5 202.8L1203 202.7L1203.5 202.7L1204 202.6L1204.5 202.5L1205 202.5L1205.5 202.4L1206 202.4L1206.5 202.4L1207 202.4L1207.5 202.3L1208 202.3L1208.5 202.3L1209 202.3L1209.5 202.3L1210 202.3L1210.5 202.3L1211 202.4L1211.5 202.5L1212 202.6L1212.5 202.7L1213 202.9L1213.5 203L1214 203.2L1214.5 203.4L1215 203.6L1215.5 203.8L1216 204L1216.5 204.2L1217 204.4L1217.5 204.6L1218 204.8L1218.5 205L1219 205.2L1219.5 205.3L1220 205.5L1220.5 205.6L1221 205.7L1221.5 205.8L1222 205.9L1222.5 206L1223 206L1223.5 206.1L1224 206.2L1224.5 206.2L1225 206.3L1225.5 206.4L1226 206.4L1226.5 206.5L1227 206.6L1227.5 206.6L1228 206.7L1228.5 206.7L1229 206.8L1229.5 206.8L1230 206.9L1230.5 206.9L1231 206.9L1231.5 207L1232 207L1232.5 207L1233 207L1233.5 207L1234 207L1234.5 206.9L1235 206.7L1235.5 206.5L1236 206.3L1236.5 206L1237 205.6L1237.5 205.3L1238 204.9L1238.5 204.5L1239 204L1239.5 203.5L1240 203L1240.5 202.5L1241 202L1241.5 201.5L1242 200.9L1242.5 200.4L1243 199.9L1243.5 199.3L1244 198.8L1244.5 198.3L1245 197.8L1245.5 197.3L1246 196.8L1246.5 196.3L1247 195.7L1247.5 195.2L1248 194.6L1248.5 194L1249 193.4L1249.5 192.8L1250 192.1L1250.5 191.5L1251 190.8L1251.5 190.2L1252 189.5L1252.5 188.9L1253 188.2L1253.5 187.6L1254 187L1254.5 186.3L1255 185.7L1255.5 185.1L1256 184.5L1256.5 183.9L1257 183.3L1257.5 182.7L1258 182.1L1258.5 181.4L1259 180.7L1259.5 180L1260 179.3L1260.5 178.6L1261 177.9L1261.5 177.2L1262 176.5L1262.5 175.9L1263 175.3L1263.5 174.7L1264 174.2L1264.5 173.7L1265 173.3L1265.5 173L1266 172.8L1266.5 172.7L1267 172.6L1267.5 172.6L1268 172.7L1268.5 172.9L1269 173L1269.5 173.3L1270 173.5L1270.5 173.7L1271 174L1271.5 174.2L1272 174.4L1272.5 174.6L1273 174.8L1273.5 174.9L1274 175L1274.5 175L1275 174.6L1275.5 173.8L1276 172.7L1276.5 171.3L1277 169.6L1277.5 167.8L1278 165.8L1278.5 163.7L1279 161.5L1279.5 159.4L1280 157.2L1280.5 155.2L1281 153.3L1281.5 151.6L1282 150.2L1282.5 149L1283 148.2L1283.5 147.7L1284 147.6L1284.5 147.8L1285 148.3L1285.5 148.9L1286 149.6L1286.5 150.5L1287 151.5L1287.5 152.5L1288 153.7L1288.5 154.8L1289 155.9L1289.5 157L1290 158L1290.5 159.2L1291 160.6L1291.5 162.1L1292 163.5L1292.5 164.7L1293 165.4L1293.5 165.4L1294 164.6L1294.5 162.9L1295 160.5L1295.5 157.6L1296 154.3L1296.5 150.8L1297 147.2L1297.5 143.6L1298 140.2L1298.5 137.1L1299 134.5L1299.5 132.5L1300 131.3L1300.5 131L1301 131.2L1301.5 131.7L1302 132.3L1302.5 133.1L1303 133.9L1303.5 134.6L1304 135.2L1304.5 135.6L1305 135.8L1305.5 135.7L1306 135.5L1306.5 135.2L1307 134.8L1307.5 134.4L1308 134L1308.5 133.6L1309 133.3L1309.5 133.1L1310 133L1310.5 133L1311 133.1L1311.5 133.1L1312 133.2L1312.5 133.4L1313 133.5L1313.5 133.6L1314 133.8L1314.5 133.9L1315 134.1L1315.5 134.2L1316 134.3L1316.5 134.4L1317 134.5L1317.5 134.6L1318 134.6L1318.5 133.2L1319 125.8L1319.5 113.8L1320 99.5L1320.5 85.3L1321 73.3L1321.5 65.9L1322 64.6L1322.5 65.3L1323 66.7L1323.5 68.5L1324 70.6L1324.5 72.9L1325 75L1325.5 77.7L1326 81.1L1326.5 84.6L1327 87.5L1327.5 89.2L1328 88.6L1328.5 84.2L1329 77.1L1329.5 68.7L1330 60.2L1330.5 53.1L1331 48.7L1331.5 48L1332 48.7L1332.5 50.1L1333 51.8L1333.5 53.5L1334 55L1334.5 56.5L1335 58.2L1335.5 59.9L1336 61.4L1336.5 62.6L1337 63.2L1337.5 62.8L1338 60.1L1338.5 55.8L1339 50.7L1339.5 45.5L1340 41.2L1340.5 38.5L1341 38L1341.5 38.4L1342 39.1L1342.5 40.2L1343 41.5L1343.5 43L1344 44.7L1344.5 46.5L1345 48.4L1345.5 50.3L1346 52.7L1346.5 56L1347 60.1L1347.5 64.8L1348 69.8L1348.5 75.2L1349 80.7L1349.5 86.1L1350 91.3L1350.5 96.3L1351 100.7L1351.5 104.4L1352 107.4L1352.5 109.3L1353 110.6L1353.5 111.7L1354 112.8L1354.5 113.8L1355 114.7L1355.5 115.4L1356 116L1356.5 116.5L1357 116.7L1357.5 116.8L1358 115.8L1358.5 113.9L1359 111.3L1359.5 108.6L1360 106.2L1360.5 104.4L1361 103.7L1361.5 104.2L1362 105.6L1362.5 107.8L1363 110.5L1363.5 113.5L1364 116.8L1364.5 120L1365 123L1365.5 125.7L1366 127.9L1366.5 129.3L1367 129.8L1367.5 129.4L1368 128.3L1368.5 126.6L1369 124.6L1369.5 122.3L1370 119.8L1370.5 117.4L1371 115.2L1371.5 113.2L1372 111.8L1372.5 110.9L1373 110.8L1373.5 111.1L1374 111.7L1374.5 112.4L1375 113.3L1375.5 114.4L1376 115.4L1376.5 116.5L1377 117.5L1377.5 118.3L1378 119L1378.5 119.6L1379 120.1L1379.5 120.7L1380 121.3L1380.5 121.8L1381 122.3L1381.5 122.7L1382 123.1L1382.5 123.4L1383 123.7L1383.5 123.9L1384 124L1384.5 124.2L1385 124.2L1385.5 124.3L1386 124.4L1386.5 124.5L1387 124.5L1387.5 124.6L1388 124.7L1388.5 124.8L1389 124.9L1389.5 125L1390 125.2L1390.5 125.4L1391 125.8L1391.5 126.2L1392 126.6L1392.5 127.1L1393 127.7L1393.5 128.3L1394 128.9L1394.5 129.6L1395 130.3L1395.5 131.1L1396 131.9L1396.5 132.7L1397 133.5L1397.5 134.4L1398 135.2L1398.5 136.1L1399 137L1399.5 137.9L1400 138.7L1400.5 139.6L1401 140.5L1401.5 141.3L1402 142.1L1402.5 142.9L1403 143.7L1403.5 144.5L1404 145.3L1404.5 146.2L1405 147L1405.5 147.9L1406 148.8L1406.5 149.7L1407 150.6L1407.5 151.5L1408 152.4L1408.5 153.3L1409 154.3L1409.5 155.2L1410 156.2L1410.5 157.1L1411 158L1411.5 159L1412 159.9L1412.5 160.8L1413 161.8L1413.5 162.7L1414 163.6L1414.5 164.5L1415 165.4L1415.5 166.3L1416 167.3L1416.5 168.3L1417 169.3L1417.5 170.3L1418 171.3L1418.5 172.3L1419 173.3L1419.5 174.3L1420 175.3L1420.5 176.3L1421 177.2L1421.5 178.2L1422 179.1L1422.5 180L1423 180.9L1423.5 181.7L1424 182.5L1424.5 183.3L1425 184L1425.5 184.6L1426 185.3L1426.5 185.8L1427 186.4L1427.5 186.9L1428 187.5L1428.5 188.1L1429 188.6L1429.5 189.2L1430 189.7L1430.5 190.3L1431 190.8L1431.5 191.3L1432 191.8L1432.5 192.2L1433 192.7L1433.5 193.1L1434 193.5L1434.5 193.8L1435 194.1L1435.5 194.4L1436 194.6L1436.5 194.8L1437 194.9L1437.5 195L1438 195L1438.5 194.9L1439 194.6L1439.5 194.3L1440 193.8L1440.5 193.3L1441 192.8L1441.5 192.3L1442 192L1442.5 191.7L1443 191.6L1443.5 191.6L1444 191.6L1444.5 191.6L1445 191.6L1445.5 191.6L1446 191.7L1446.5 191.7L1447 191.7L1447.5 191.7L1448 191.8L1448.5 191.8L1449 191.8L1449.5 191.9L1450 191.9L1450.5 192L1451 192L1451.5 192.1L1452 192.1L1452.5 192.2L1453 192.3L1453.5 192.3L1454 192.4L1454.5 192.4L1455 192.5L1455.5 192.6L1456 192.7L1456.5 192.7L1457 192.8L1457.5 192.9L1458 193L1458.5 193.2L1459 193.4L1459.5 193.6L1460 193.8L1460.5 194.1L1461 194.4L1461.5 194.7L1462 195.1L1462.5 195.5L1463 195.8L1463.5 196.3L1464 196.7L1464.5 197.1L1465 197.6L1465.5 198.1L1466 198.6L1466.5 199.1L1467 199.6L1467.5 200.1L1468 200.6L1468.5 201.2L1469 201.7L1469.5 202.3L1470 202.8L1470.5 203.4L1471 203.9L1471.5 204.5L1472 205L1472.5 205.6L1473 206.1L1473.5 206.7L1474 207.2L1474.5 207.8L1475 208.3L1475.5 208.9L1476 209.5L1476.5 210.2L1477 210.8L1477.5 211.5L1478 212.1L1478.5 212.8L1479 213.5L1479.5 214.2L1480 214.9L1480.5 215.7L1481 216.4L1481.5 217.1L1482 217.9L1482.5 218.7L1483 219.4L1483.5 220.2L1484 221L1484.5 221.7L1485 222.5L1485.5 223.3L1486 224.1L1486.5 224.9L1487 225.7L1487.5 226.5L1488 227.3L1488.5 228.2L1489 229L1489.5 229.9L1490 230.7L1490.5 231.6L1491 232.5L1491.5 233.4L1492 234.3L1492.5 235.2L1493 236.1L1493.5 237.1L1494 238" fill="none" stroke="#8c0008" stroke-width="4.0" stroke-linejoin="round" stroke-linecap="round"/>
<path d="M1490 231.4 L1491.7 231.4 L1491.7 230.8 L1492.7 230.8 L1492.7 231.2 L1495.4 231.2 L1495.4 229.4 L1498.3 229.4 L1498.3 229.2 L1500.6 229.2 L1500.6 225.3 L1502.1 225.3 L1502.1 227.6 L1504 227.6 L1504 227.7 L1506.8 227.7 L1506.8 227.9 L1509 227.9 L1509 226 L1511.4 226 L1511.4 224.3 L1513.8 224.3 L1513.8 225.8 L1516.8 225.8 L1516.8 224.7 L1519.1 224.7 L1519.1 223.6 L1520.3 223.6 L1520.3 224.5 L1522.3 224.5 L1522.3 226.3 L1525.2 226.3 L1525.2 227.1 L1526.4 227.1 L1526.4 227.2 L1527.5 227.2 L1527.5 226.3 L1528.6 226.3 L1528.6 229.7 L1529.8 229.7 L1529.8 227.3 L1531.1 227.3 L1531.1 229.3 L1533.7 229.3 L1533.7 229.9 L1535.9 229.9 L1535.9 233.6 L1538.3 233.6 L1538.3 234 L1540.4 234 L1540.4 235.2 L1542.1 235.2 L1542.1 235.4 L1544.7 235.4 L1544.7 236 L1546 236 L1546 236.8 L1547.8 236.8 L1547.8 235.8 L1549.6 235.8 L1549.6 238.7 L1552 238.7 L1552 239.4 L1554.5 239.4 L1554.5 238.9 L1556.6 238.9 L1556.6 239.8 L1558.8 239.8 L1558.8 240.4 L1560.4 240.4 L1560.4 241.8 L1562.6 241.8 L1562.6 241.3 L1565.3 241.3 L1565.3 241.3 L1567.1 241.3 L1567.1 241.2 L1569.6 241.2 L1569.6 240.7 L1571.7 240.7 L1571.7 241.7 L1573.7 241.7 L1573.7 242.5 L1575.9 242.5 L1575.9 242.5 L1577.2 242.5 L1577.2 242.9 L1578.6 242.9 L1578.6 243.1 L1580 243.1 L1580 243.1 L1582 243.1 L1582 243.1 L1584.4 243.1 L1584.4 243.1 L1586.8 243.1 L1586.8 243.1 L1588.2 243.1 L1588.2 243.1 L1589.9 243.1 L1589.9 243.1 L1591.2 243.1 L1591.2 242.6 L1592 242.6 L1592 243.6 L1592 243.6 L1590 243.9 L1590 243.9 L1588.8 243.9 L1588.8 243.9 L1586.6 243.9 L1586.6 243.9 L1585.4 243.9 L1585.4 243.9 L1583.6 243.9 L1583.6 243.9 L1581.7 243.9 L1581.7 243.9 L1580.3 243.9 L1580.3 243.9 L1578.9 243.9 L1578.9 243.9 L1576.6 243.6 L1576.6 243.6 L1574.1 243.6 L1574.1 243.6 L1571.3 243.6 L1571.3 243.6 L1569.2 243.6 L1569.2 243.6 L1566.8 243.6 L1566.8 243.6 L1564 243.6 L1564 243.6 L1561.4 243.6 L1561.4 243.6 L1560.2 243.6 L1560.2 243.6 L1557.5 243.6 L1557.5 243.6 L1555.2 243.6 L1555.2 243.5 L1553.7 243.5 L1553.7 243.6 L1552.5 243.6 L1552.5 243.6 L1551.5 243.6 L1551.5 243.1 L1550.3 243.1 L1550.3 243.1 L1548.4 243.1 L1548.4 242.7 L1545.8 242.7 L1545.8 241.6 L1544 241.6 L1544 240.8 L1541.2 240.8 L1541.2 242.2 L1538.8 242.2 L1538.8 240 L1537.3 240 L1537.3 240.4 L1535.9 240.4 L1535.9 239.8 L1533.2 239.8 L1533.2 238.2 L1530.8 238.2 L1530.8 238.3 L1529.6 238.3 L1529.6 237.6 L1527.5 237.6 L1527.5 237.3 L1526.4 237.3 L1526.4 236.5 L1523.6 236.5 L1523.6 239.2 L1521.4 239.2 L1521.4 237 L1519.6 237 L1519.6 237.5 L1518.3 237.5 L1518.3 236.2 L1516.7 236.2 L1516.7 236.2 L1515.1 236.2 L1515.1 238.2 L1513.4 238.2 L1513.4 237 L1512.1 237 L1512.1 236.3 L1510.4 236.3 L1510.4 236.7 L1507.8 236.7 L1507.8 236.6 L1506.5 236.6 L1506.5 238.3 L1504.3 238.3 L1504.3 239.8 L1502 239.8 L1502 240.4 L1499.7 240.4 L1499.7 241 L1497.1 241 L1497.1 240.8 L1495.6 240.8 L1495.6 242 L1492.9 242 L1492.9 243.6 L1490 243.6Z" fill="#a0000a"/>
<path d="M986.3 460.9 L989 460.9 L989 456.3 L991.5 456.3 L991.5 457.1 L993.3 457.1 L993.3 457.8 L995.9 457.8 L995.9 470.3 L996.9 470.3 L996.9 458.8 L998.9 458.8 L998.9 459.3 L1002 459.3 L1002 484.8 L1003.5 484.8 L1003.5 467.9 L1006.1 467.9 L1006.1 460.3 L1008.9 460.3 L1008.9 477 L1010.3 477 L1010.3 483 L1013.4 483 L1013.4 459.4 L1015 459.4 L1015 478.3 L1018.4 478.3 L1018.4 477.3 L1020.3 477.3 L1020.3 474.1 L1022.8 474.1 L1022.8 463.1 L1023 463.1 L1023 490.8 L1023 490.8 L1022.3 490.8 L1022.3 490.8 L1020.8 490.8 L1020.8 490.8 L1017.5 490.8 L1017.5 490.8 L1015 490.8 L1015 490.8 L1013.7 490.8 L1013.7 490.8 L1010.8 490.8 L1010.8 490.8 L1008.2 490.8 L1008.2 490.8 L1007.2 490.8 L1007.2 490.8 L1006.1 490.8 L1006.1 490.8 L1005.1 490.8 L1005.1 490.8 L1002 490.8 L1002 490.8 L999.4 490.8 L999.4 490.8 L997.2 490.8 L997.2 490.8 L995.8 490.8 L995.8 490.8 L992.4 490.8 L992.4 490.8 L989.8 490.8 L989.8 490.8 L986.3 490.8Z" fill="#c00000"/>
<path d="M1022 476.2 L1025.5 476.2 L1025.5 470.1 L1027.6 470.1 L1027.6 469.3 L1031.1 469.3 L1031.1 461.2 L1033.6 461.2 L1033.6 474.7 L1036.7 474.7 L1036.7 473.2 L1039.7 473.2 L1039.7 472.4 L1042.2 472.4 L1042.2 480.3 L1045 480.3 L1045 477.3 L1048.1 477.3 L1048.1 470.8 L1049.9 470.8 L1049.9 479.7 L1053.7 479.7 L1053.7 478.3 L1057.3 478.3 L1057.3 483.5 L1059.3 483.5 L1059.3 488.4 L1061.4 488.4 L1061.4 479.8 L1063.9 479.8 L1063.9 482.8 L1067.3 482.8 L1067.3 486.9 L1070.1 486.9 L1070.1 487.2 L1072.4 487.2 L1072.4 482.4 L1075.8 482.4 L1075.8 484.4 L1077.8 484.4 L1077.8 485.1 L1081 485.1 L1081 487.2 L1084.4 487.2 L1084.4 488.2 L1086.2 488.2 L1086.2 487.1 L1089.1 487.1 L1089.1 490.3 L1092.1 490.3 L1092.1 490.3 L1096 490.3 L1096 487.3 L1098.3 487.3 L1098.3 488.7 L1100.9 488.7 L1100.9 490.3 L1104.8 490.3 L1104.8 486.9 L1106.6 486.9 L1106.6 486.7 L1110.3 486.7 L1110.3 486.4 L1112.7 486.4 L1112.7 481.6 L1115.1 481.6 L1115.1 486.7 L1119.1 486.7 L1119.1 485 L1121.6 485 L1121.6 488.5 L1123.7 488.5 L1123.7 485 L1125.7 485 L1125.7 490.3 L1128.9 490.3 L1128.9 490.3 L1132 490.3 L1132 490.3 L1134.1 490.3 L1134.1 487.5 L1136 487.5 L1136 490.8 L1136 490.8 L1135.3 490.8 L1135.3 490.8 L1132.5 491.1 L1132.5 491.1 L1129.2 491.1 L1129.2 491.1 L1125.2 490.8 L1125.2 490.8 L1121.4 490.8 L1121.4 490.8 L1118.5 490.8 L1118.5 490.8 L1114.8 490.8 L1114.8 490.8 L1112.4 490.8 L1112.4 490.8 L1109.6 490.8 L1109.6 490.8 L1107.5 490.8 L1107.5 490.8 L1104.1 491.1 L1104.1 491.1 L1100.3 490.8 L1100.3 490.8 L1097.1 490.8 L1097.1 490.8 L1094.7 491.1 L1094.7 491.1 L1090.9 491.1 L1090.9 491.1 L1087.1 490.8 L1087.1 490.8 L1085.5 490.8 L1085.5 490.8 L1082.3 490.8 L1082.3 490.8 L1079.4 490.8 L1079.4 490.8 L1076.5 490.8 L1076.5 490.8 L1074 490.8 L1074 490.8 L1070.3 490.8 L1070.3 490.8 L1066.7 490.8 L1066.7 490.8 L1063.4 490.8 L1063.4 490.8 L1060.1 490.8 L1060.1 490.8 L1057.7 490.8 L1057.7 490.8 L1056 490.8 L1056 490.8 L1052.7 490.8 L1052.7 490.8 L1050.3 490.8 L1050.3 490.8 L1048.8 490.8 L1048.8 490.8 L1046.3 490.8 L1046.3 490.8 L1043.4 490.8 L1043.4 490.8 L1039.5 490.8 L1039.5 490.8 L1035.8 490.8 L1035.8 490.8 L1032.5 490.8 L1032.5 490.8 L1029 490.8 L1029 490.8 L1026.9 490.8 L1026.9 490.8 L1024.9 490.8 L1024.9 490.8 L1022 490.8Z" fill="#a0000a"/>
<path d="M1134 474.6 L1135.6 474.6 L1135.6 475.2 L1136.8 475.2 L1136.8 472 L1138.3 472 L1138.3 468.5 L1140.6 468.5 L1140.6 471.7 L1142.7 471.7 L1142.7 471 L1144.8 471 L1144.8 471.6 L1146.9 471.6 L1146.9 470.4 L1149.8 470.4 L1149.8 467.5 L1152.5 467.5 L1152.5 467.2 L1154 467.2 L1154 466.8 L1156.1 466.8 L1156.1 463.9 L1159.1 463.9 L1159.1 465.4 L1160.6 465.4 L1160.6 463.9 L1163 463.9 L1163 463.7 L1165.3 463.7 L1165.3 463.4 L1167.6 463.4 L1167.6 464.5 L1169.8 464.5 L1169.8 462.4 L1172.2 462.4 L1172.2 461.7 L1174 461.7 L1174 463.5 L1176.9 463.5 L1176.9 461 L1179 461 L1179 460.8 L1180.7 460.8 L1180.7 459.8 L1183 459.8 L1183 462.1 L1185.3 462.1 L1185.3 461.1 L1188.2 461.1 L1188.2 461.1 L1190.4 461.1 L1190.4 460.6 L1192.5 460.6 L1192.5 460.1 L1194.2 460.1 L1194.2 459.2 L1196 459.2 L1196 458.9 L1197.6 458.9 L1197.6 459.7 L1199.8 459.7 L1199.8 458.5 L1202.6 458.5 L1202.6 458.8 L1204.8 458.8 L1204.8 455.3 L1206.2 455.3 L1206.2 451.4 L1207.2 451.4 L1207.2 452.5 L1210 452.5 L1210 453.3 L1210 453.3 L1210 459 L1210 460.4 L1209.6 460.4 L1209.6 464.5 L1206.7 464.5 L1206.7 467.1 L1204.5 467.1 L1204.5 469 L1202.9 469 L1202.9 471.1 L1201.1 471.1 L1201.1 471.9 L1198.2 471.9 L1198.2 473.1 L1197 473.1 L1197 472.6 L1194.9 472.6 L1194.9 473 L1192.3 473 L1192.3 475.7 L1189.9 475.7 L1189.9 472.8 L1188.1 472.8 L1188.1 473.2 L1186.7 473.2 L1186.7 473.6 L1184.6 473.6 L1184.6 475.8 L1182.3 475.8 L1182.3 474.9 L1179.9 474.9 L1179.9 473.8 L1177.2 473.8 L1177.2 475.6 L1176 475.6 L1176 476.4 L1174.7 476.4 L1174.7 475.1 L1172.7 475.1 L1172.7 475.8 L1170 475.8 L1170 477.4 L1167.9 477.4 L1167.9 478.6 L1165.9 478.6 L1165.9 481.2 L1164.2 481.2 L1164.2 483.3 L1161.9 483.3 L1161.9 483.7 L1159.2 483.7 L1159.2 485.5 L1158.1 485.5 L1158.1 487.4 L1155.7 487.4 L1155.7 490.5 L1153.3 490.5 L1153.3 492.8 L1150.4 492.8 L1150.4 493.9 L1149.2 493.9 L1149.2 491.2 L1146.5 491.2 L1146.5 491.2 L1144 491.2 L1144 492 L1141.4 492 L1141.4 491.9 L1139.2 491.9 L1139.2 492.4 L1136.9 492.4 L1136.9 491.4 L1135.7 491.4 L1135.7 491.1 L1134 491.1Z" fill="#b0000a"/>
<path d="M1205 457L1205.5 456.4L1206 455.8L1206.5 455.2L1207 454.5L1207.5 453.9L1208 453.3L1208.5 452.7L1209 452L1209.5 451.4L1210 450.8L1210.5 450.2L1211 449.5L1211.5 448.9L1212 448.3L1212.5 447.6L1213 447L1213.5 446.4L1214 445.7L1214.5 445L1215 444.3L1215.5 443.6L1216 442.9L1216.5 442.2L1217 441.6L1217.5 440.9L1218 440.2L1218.5 439.5L1219 438.9L1219.5 438.3L1220 437.6L1220.5 437.1L1221 436.5L1221.5 436L1222 435.5L1222.5 435L1223 434.6L1223.5 434.1L1224 433.7L1224.5 433.3L1225 432.9L1225.5 432.5L1226 432.1L1226.5 431.7L1227 431.4L1227.5 431L1228 430.6L1228.5 430.3L1229 429.9L1229.5 429.5L1230 429.2L1230.5 428.8L1231 428.4L1231.5 428L1232 427.6L1232.5 427.2L1233 426.8L1233.5 426.4L1234 426L1234.5 425.5L1235 425L1235.5 424.4L1236 423.8L1236.5 423.3L1237 422.7L1237.5 422.1L1238 421.5L1238.5 420.9L1239 420.3L1239.5 419.7L1240 419.2L1240.5 418.6L1241 418.1L1241.5 417.7L1242 417.3L1242.5 416.9L1243 416.5L1243.5 416.3L1244 416L1244.5 415.9L1245 415.8L1245.5 415.8L1246 416L1246.5 416.3L1247 416.8L1247.5 417.4L1248 418.1L1248.5 418.9L1249 419.6L1249.5 420.4L1250 421.1L1250.5 421.7L1251 422.3L1251.5 422.7L1252 422.9L1252.5 423L1253 422.8L1253.5 422.4L1254 421.8L1254.5 421L1255 420.1L1255.5 419L1256 417.8L1256.5 416.5L1257 415.1L1257.5 413.6L1258 412.1L1258.5 410.7L1259 409.2L1259.5 407.7L1260 406.3L1260.5 404.9L1261 403.7L1261.5 402.5L1262 401.5L1262.5 400.7L1263 400L1263.5 399.5L1264 399.2L1264.5 399.2L1265 399.7L1265.5 400.5L1266 401.6L1266.5 403.1L1267 404.7L1267.5 406.5L1268 408.3L1268.5 410.2L1269 412L1269.5 413.7L1270 415.2L1270.5 416.5L1271 417.5L1271.5 418L1272 418.2L1272.5 417.9L1273 417.2L1273.5 416.1L1274 414.7L1274.5 413.1L1275 411.2L1275.5 409.1L1276 406.9L1276.5 404.6L1277 402.2L1277.5 399.8L1278 397.4L1278.5 395.1L1279 392.9L1279.5 390.8L1280 388.9L1280.5 387.3L1281 385.9L1281.5 384.8L1282 384.1L1282.5 383.8L1283 384L1283.5 384.8L1284 386.1L1284.5 387.8L1285 389.8L1285.5 392L1286 394.3L1286.5 396.7L1287 399L1287.5 401.2L1288 403L1288.5 404.6L1289 405.7L1289.5 406.2L1290 406.2L1290.5 405.7L1291 404.8L1291.5 403.6L1292 402.1L1292.5 400.3L1293 398.5L1293.5 396.5L1294 394.4L1294.5 392.4L1295 390.5L1295.5 388.7L1296 387.1L1296.5 385.7L1297 384.7L1297.5 384L1298 383.8L1298.5 384L1299 384.7L1299.5 385.6L1300 386.9L1300.5 388.2L1301 389.7L1301.5 391.2L1302 392.5L1302.5 393.8L1303 394.7L1303.5 395.4L1304 395.6L1304.5 394L1305 389.8L1305.5 383.6L1306 376.2L1306.5 368.3L1307 360.6L1307.5 353.9L1308 348.8L1308.5 346.1L1309 346.1L1309.5 348.1L1310 351.3L1310.5 355.5L1311 360.1L1311.5 364.8L1312 369.1L1312.5 372.6L1313 374.8L1313.5 375.4L1314 375.1L1314.5 374.6L1315 373.7L1315.5 372.5L1316 371L1316.5 369.4L1317 367.5L1317.5 365.5L1318 363.3L1318.5 360.4L1319 354.6L1319.5 346.9L1320 338.3L1320.5 330.1L1321 323.3L1321.5 319.2L1322 318.5L1322.5 319L1323 320L1323.5 321.3L1324 322.7L1324.5 324.3L1325 325.7L1325.5 326.9L1326 327.7L1326.5 328L1327 327.3L1327.5 325.5L1328 322.8L1328.5 319.4L1329 315.6L1329.5 311.5L1330 307.5L1330.5 303.7L1331 300.5L1331.5 297.9L1332 296.3L1332.5 295.9L1333 296.5L1333.5 297.8L1334 299.4L1334.5 301.1L1335 302.6L1335.5 303.8L1336 304.2L1336.5 303.9L1337 303.1L1337.5 301.8L1338 300.2L1338.5 298.3L1339 296.3L1339.5 294.2L1340 292.2L1340.5 290.2L1341 288.5L1341.5 287.1L1342 286.1L1342.5 285.5L1343 285.9L1343.5 288L1344 291.6L1344.5 296.2L1345 301.2L1345.5 306.1L1346 310.6L1346.5 313.9L1347 316.1L1347.5 317.7L1348 319L1348.5 320.1L1349 321.2L1349.5 322.3L1350 323.4L1350.5 324.8L1351 326.4L1351.5 328.5L1352 332.2L1352.5 337.4L1353 343.5L1353.5 349.5L1354 354.8L1354.5 358.6L1355 360L1355.5 359.5L1356 358.1L1356.5 356.1L1357 353.8L1357.5 351.2L1358 348.7L1358.5 346.4L1359 344.6L1359.5 343.6L1360 343.6L1360.5 345.2L1361 348.2L1361.5 352.2L1362 356.8L1362.5 361.5L1363 365.9L1363.5 369.6L1364 372.1L1364.5 373L1365 372.9L1365.5 372.6L1366 372.2L1366.5 371.6L1367 371L1367.5 370.3L1368 369.6L1368.5 368.8L1369 368.1L1369.5 367.5L1370 366.9L1370.5 366.5L1371 366.1L1371.5 366L1372 366.1L1372.5 366.7L1373 367.6L1373.5 368.9L1374 370.4L1374.5 372.2L1375 374.1L1375.5 376.2L1376 378.3L1376.5 380.5L1377 382.7L1377.5 384.8L1378 386.7L1378.5 388.5L1379 390.1L1379.5 391.4L1380 392.4L1380.5 393.1L1381 393.3L1381.5 393L1382 392.1L1382.5 390.7L1383 388.9L1383.5 386.8L1384 384.5L1384.5 382.1L1385 379.7L1385.5 377.3L1386 375.1L1386.5 373.1L1387 371.5L1387.5 370.3L1388 369.6L1388.5 369.5L1389 370L1389.5 371L1390 372.3L1390.5 374L1391 376L1391.5 378.1L1392 380.4L1392.5 382.8L1393 385.1L1393.5 387.4L1394 389.5L1394.5 391.4L1395 393.1L1395.5 394.3L1396 395.2L1396.5 395.6L1397 395.5L1397.5 395.1L1398 394.3L1398.5 393.4L1399 392.2L1399.5 390.9L1400 389.5L1400.5 388L1401 386.6L1401.5 385.1L1402 383.7L1402.5 382.4L1403 381.2L1403.5 380.3L1404 379.5L1404.5 379.1L1405 379L1405.5 379.1L1406 379.5L1406.5 380L1407 380.6L1407.5 381.4L1408 382.2L1408.5 383.2L1409 384.2L1409.5 385.2L1410 386.2L1410.5 387.2L1411 388.2L1411.5 389.1L1412 389.9L1412.5 390.6L1413 391.2L1413.5 391.7L1414 391.9L1414.5 392L1415 392L1415.5 392L1416 392L1416.5 392L1417 392L1417.5 392L1418 392L1418.5 392L1419 392L1419.5 392L1420 392L1420.5 392L1421 392L1421.5 392L1422 392.1L1422.5 392.4L1423 392.9L1423.5 393.6L1424 394.4L1424.5 395.4L1425 396.5L1425.5 397.8L1426 399.1L1426.5 400.5L1427 402L1427.5 403.5L1428 405.1L1428.5 406.7L1429 408.3L1429.5 409.9L1430 411.5L1430.5 413.1L1431 414.6L1431.5 416L1432 417.4L1432.5 418.6L1433 419.8L1433.5 420.8L1434 421.8L1434.5 422.7L1435 423.7L1435.5 424.6L1436 425.6L1436.5 426.5L1437 427.4L1437.5 428.3L1438 429.2L1438.5 430.1L1439 431L1439.5 431.8L1440 432.7L1440.5 433.5L1441 434.4L1441.5 435.2L1442 436L1442.5 436.8L1443 437.6L1443.5 438.4L1444 439.2L1444.5 439.9L1445 440.7L1445.5 441.5L1446 442.2L1446.5 442.9L1447 443.7L1447.5 444.4L1448 445.1L1448.5 445.8L1449 446.5L1449.5 447.2L1450 447.9L1450.5 448.6L1451 449.2L1451.5 449.8L1452 450.5L1452.5 451L1453 451.6L1453.5 452.2L1454 452.8L1454.5 453.3L1455 453.8L1455.5 454.4L1456 454.9L1456.5 455.5L1457 456L1457.5 456.6L1458 457.1L1458.5 457.7L1459 458.3L1459.5 458.9L1460 459.5L1460.5 460.1L1461 460.8L1461.5 461.4L1462 462.1L1462.5 462.9L1463 463.6L1463.5 464.4L1464 465.2L1464.5 466L1465 466.8L1465.5 467.7L1466 468.5L1466.5 469.4L1467 470.3L1467.5 471.2L1468 472.1L1468.5 473.1L1469 474" fill="none" stroke="#8c0008" stroke-width="4.0" stroke-linejoin="round" stroke-linecap="round"/>
<path d="M1465 469 L1467.9 469 L1467.9 467.6 L1470 467.6 L1470 468.4 L1471.8 468.4 L1471.8 469.3 L1474.3 469.3 L1474.3 468.1 L1476.4 468.1 L1476.4 468.3 L1479.1 468.3 L1479.1 469 L1481.7 469 L1481.7 468.2 L1484.1 468.2 L1484.1 469.7 L1487.1 469.7 L1487.1 471.6 L1489.4 471.6 L1489.4 472.7 L1492.3 472.7 L1492.3 472.6 L1494.6 472.6 L1494.6 473.9 L1496.1 473.9 L1496.1 475 L1498.3 475 L1498.3 476.4 L1500.8 476.4 L1500.8 478.8 L1502.7 478.8 L1502.7 479.6 L1504 479.6 L1504 480.9 L1505.7 480.9 L1505.7 481.5 L1508.3 481.5 L1508.3 483.3 L1509.7 483.3 L1509.7 485.2 L1510.7 485.2 L1510.7 484.7 L1513.5 484.7 L1513.5 487.1 L1516.4 487.1 L1516.4 486.4 L1519.2 486.4 L1519.2 485.9 L1521.8 485.9 L1521.8 486.6 L1524.2 486.6 L1524.2 485.1 L1526.3 485.1 L1526.3 484.6 L1528.6 484.6 L1528.6 484.5 L1531.1 484.5 L1531.1 485.2 L1532.8 485.2 L1532.8 488.1 L1534.2 488.1 L1534.2 485.7 L1536.6 485.7 L1536.6 489.3 L1538 489.3 L1538 490.8 L1538 490.8 L1535.6 490.8 L1535.6 490.8 L1533.3 490.8 L1533.3 490.8 L1531.2 490.8 L1531.2 490.8 L1528.8 490.8 L1528.8 490.8 L1527.3 490.8 L1527.3 490.8 L1525.2 490.8 L1525.2 490.8 L1522.6 490.8 L1522.6 490.8 L1519.8 490.8 L1519.8 490.8 L1517.8 490.8 L1517.8 490.8 L1516.3 490.8 L1516.3 490.8 L1514.2 490.8 L1514.2 490.7 L1511.4 490.7 L1511.4 490.2 L1509.2 490.2 L1509.2 489.8 L1506.5 489.8 L1506.5 490 L1504.3 490 L1504.3 489.5 L1502.6 489.5 L1502.6 489.5 L1501.5 489.5 L1501.5 489.1 L1499.6 489.1 L1499.6 488.6 L1498.6 488.6 L1498.6 488.1 L1497 488.1 L1497 488.1 L1495.6 488.1 L1495.6 488.1 L1493.9 488.1 L1493.9 488 L1492.3 488 L1492.3 487.3 L1490.7 487.3 L1490.7 487.3 L1488.5 487.3 L1488.5 486.3 L1486.6 486.3 L1486.6 485.7 L1483.8 485.7 L1483.8 485.1 L1480.9 485.1 L1480.9 483.9 L1479.8 483.9 L1479.8 482.8 L1477.1 482.8 L1477.1 481.9 L1475.5 481.9 L1475.5 481.4 L1474.2 481.4 L1474.2 480.8 L1472.1 480.8 L1472.1 480.6 L1471.1 480.6 L1471.1 479.6 L1469.3 479.6 L1469.3 479.6 L1467.8 479.6 L1467.8 478.2 L1465 478.2Z" fill="#a0000a"/>
<path d="M986.3 712.9 L987.6 712.9 L987.6 715.6 L990.6 715.6 L990.6 714.7 L993.3 714.7 L993.3 722.1 L995.5 722.1 L995.5 715.4 L998.6 715.4 L998.6 710.5 L1000.2 710.5 L1000.2 714 L1001.2 714 L1001.2 716.4 L1004.2 716.4 L1004.2 716.8 L1006.8 716.8 L1006.8 728.2 L1008.6 728.2 L1008.6 720.5 L1011.1 720.5 L1011.1 736.3 L1012.3 736.3 L1012.3 728 L1014.1 728 L1014.1 716.4 L1016.5 716.4 L1016.5 724.6 L1018 724.6 L1018 737.3 L1018 737.3 L1017.4 737.3 L1017.4 737.3 L1015.9 737.3 L1015.9 737.3 L1014.6 737.3 L1014.6 737.3 L1012.3 737.3 L1012.3 737.3 L1009.7 737.3 L1009.7 737.3 L1007.4 737.3 L1007.4 737.3 L1006.3 737.3 L1006.3 737.3 L1005.2 737.3 L1005.2 737.3 L1003.1 737.3 L1003.1 737.3 L1000.3 737.3 L1000.3 737.3 L997.4 737.3 L997.4 737.3 L995.6 737.3 L995.6 737.3 L994.3 737.3 L994.3 737.3 L991.3 737.3 L991.3 737.3 L989.7 737.3 L989.7 737.3 L986.3 737.3Z" fill="#c00000"/>
<path d="M1017 731.7 L1019.2 731.7 L1019.2 731 L1022 731 L1022 731 L1024.7 731 L1024.7 729.9 L1027.7 729.9 L1027.7 736.2 L1031.5 736.2 L1031.5 731 L1033.7 731 L1033.7 730.1 L1036.8 730.1 L1036.8 732.2 L1039.5 732.2 L1039.5 730.8 L1043.4 730.8 L1043.4 731.2 L1045.5 731.2 L1045.5 731.2 L1048.6 731.2 L1048.6 732.3 L1050.3 732.3 L1050.3 732.5 L1053.2 732.5 L1053.2 731.7 L1057.1 731.7 L1057.1 729.1 L1060.4 729.1 L1060.4 736.8 L1061.9 736.8 L1061.9 736.5 L1065.9 736.5 L1065.9 736.4 L1068.8 736.4 L1068.8 730 L1071.7 730 L1071.7 731.2 L1075.6 731.2 L1075.6 731.3 L1078.5 731.3 L1078.5 736.1 L1080.6 736.1 L1080.6 730 L1083.2 730 L1083.2 734.8 L1086.5 734.8 L1086.5 736.3 L1089 736.3 L1089 734.5 L1090.9 734.5 L1090.9 736.8 L1093.4 736.8 L1093.4 736.8 L1095.2 736.8 L1095.2 736.8 L1096.9 736.8 L1096.9 736.6 L1098.7 736.6 L1098.7 735.4 L1101.5 735.4 L1101.5 729.8 L1103.8 729.8 L1103.8 731.9 L1105.7 731.9 L1105.7 729.2 L1109.1 729.2 L1109.1 728.1 L1112.1 728.1 L1112.1 726.6 L1115.7 726.6 L1115.7 727.8 L1117.6 727.8 L1117.6 736.8 L1120.6 736.8 L1120.6 732 L1122.8 732 L1122.8 736.8 L1125.5 736.8 L1125.5 736.2 L1127 736.2 L1127 737.3 L1127 737.3 L1125.9 737.3 L1125.9 737.3 L1122.5 737.3 L1122.5 737.3 L1118.6 737.6 L1118.6 737.6 L1116.5 737.3 L1116.5 737.3 L1113.1 737.3 L1113.1 737.3 L1111.3 737.3 L1111.3 737.3 L1108.6 737.3 L1108.6 737.3 L1105.6 737.3 L1105.6 737.3 L1102.2 737.3 L1102.2 737.3 L1100.6 737.3 L1100.6 737.3 L1097.2 737.4 L1097.2 737.4 L1095.2 737.6 L1095.2 737.6 L1093.7 737.6 L1093.7 737.6 L1091.8 737.6 L1091.8 737.6 L1090.2 737.3 L1090.2 737.3 L1088 737.3 L1088 737.3 L1084.6 737.3 L1084.6 737.3 L1082.9 737.3 L1082.9 737.3 L1081.4 737.3 L1081.4 737.3 L1079.4 737.3 L1079.4 737.3 L1075.7 737.3 L1075.7 737.3 L1072.4 737.3 L1072.4 737.3 L1070 737.3 L1070 737.3 L1067.8 737.3 L1067.8 737.3 L1064.6 737.3 L1064.6 737.3 L1061.1 737.6 L1061.1 737.6 L1057.7 737.3 L1057.7 737.3 L1055.5 737.3 L1055.5 737.3 L1052.7 737.3 L1052.7 737.3 L1049.3 737.3 L1049.3 737.3 L1046.1 737.3 L1046.1 737.3 L1043.8 737.3 L1043.8 737.3 L1040.1 737.3 L1040.1 737.3 L1036.1 737.3 L1036.1 737.3 L1034.5 737.3 L1034.5 737.3 L1032.9 737.3 L1032.9 737.3 L1030.3 737.3 L1030.3 737.3 L1026.5 737.3 L1026.5 737.3 L1024.1 737.3 L1024.1 737.3 L1020.8 737.3 L1020.8 737.3 L1017 737.3Z" fill="#8a0008"/>
<path d="M1125 734.2 L1127.8 734.2 L1127.8 733.4 L1130.1 733.4 L1130.1 733.9 L1132 733.9 L1132 733.5 L1134.4 733.5 L1134.4 729.8 L1135.5 729.8 L1135.5 730.8 L1137.3 730.8 L1137.3 729.4 L1140 729.4 L1140 727.3 L1142 727.3 L1142 726 L1144.1 726 L1144.1 729.7 L1146.2 729.7 L1146.2 728.4 L1149.1 728.4 L1149.1 730.2 L1150.5 730.2 L1150.5 730.5 L1152.9 730.5 L1152.9 725.5 L1154.8 725.5 L1154.8 728.7 L1156.2 728.7 L1156.2 729.2 L1157.3 729.2 L1157.3 730.7 L1159.5 730.7 L1159.5 730 L1160.9 730 L1160.9 730.5 L1163.1 730.5 L1163.1 729.2 L1164.9 729.2 L1164.9 730.8 L1166.7 730.8 L1166.7 730.4 L1169.5 730.4 L1169.5 727.9 L1170.7 727.9 L1170.7 726.6 L1172.8 726.6 L1172.8 726 L1174.7 726 L1174.7 725.7 L1176 725.7 L1176 724.7 L1177.7 724.7 L1177.7 723.7 L1180.5 723.7 L1180.5 722.1 L1181.9 722.1 L1181.9 720.2 L1184.2 720.2 L1184.2 717.6 L1185.8 717.6 L1185.8 720.6 L1187.8 720.6 L1187.8 720.6 L1189.9 720.6 L1189.9 716.6 L1191.1 716.6 L1191.1 716.7 L1193.7 716.7 L1193.7 717 L1195.4 717 L1195.4 714.7 L1196.8 714.7 L1196.8 716.3 L1198.3 716.3 L1198.3 716.2 L1201.2 716.2 L1201.2 713.6 L1204.1 713.6 L1204.1 713.2 L1206.1 713.2 L1206.1 712.5 L1207.6 712.5 L1207.6 710.8 L1210 710.8 L1210 712 L1211.1 712 L1211.1 710.6 L1213.8 710.6 L1213.8 710.3 L1214.8 710.3 L1214.8 708.5 L1215 708.5 L1215 722 L1215 724.7 L1213.8 724.7 L1213.8 728.1 L1211.5 728.1 L1211.5 729.3 L1209.7 729.3 L1209.7 732.8 L1206.8 732.8 L1206.8 735.6 L1204.7 735.6 L1204.7 736 L1203.4 736 L1203.4 737.4 L1201.6 737.4 L1201.6 737.4 L1199.2 737.4 L1199.2 737.8 L1196.3 737.8 L1196.3 738.4 L1194.6 738.4 L1194.6 738 L1192 738 L1192 738.1 L1189.5 738.1 L1189.5 738 L1188.2 738 L1188.2 738.8 L1186.1 738.8 L1186.1 738.8 L1184.6 738.8 L1184.6 738 L1183.6 738 L1183.6 738.4 L1181.7 738.4 L1181.7 737.4 L1178.8 737.4 L1178.8 737.6 L1177.4 737.6 L1177.4 737.9 L1174.8 737.9 L1174.8 739.6 L1172.8 739.6 L1172.8 737.7 L1170.4 737.7 L1170.4 738.3 L1169.3 738.3 L1169.3 737.5 L1167.6 737.5 L1167.6 737.6 L1165.5 737.6 L1165.5 738 L1164.1 738 L1164.1 737.6 L1161.8 737.6 L1161.8 738.6 L1159.8 738.6 L1159.8 737.7 L1158.5 737.7 L1158.5 737.5 L1156.9 737.5 L1156.9 737.4 L1154.4 737.4 L1154.4 737.6 L1152.3 737.6 L1152.3 737.6 L1149.6 737.6 L1149.6 738.6 L1148 738.6 L1148 737.5 L1145.7 737.5 L1145.7 737.4 L1143.1 737.4 L1143.1 739 L1140.8 739 L1140.8 737.3 L1139.6 737.3 L1139.6 739 L1137 739 L1137 737.8 L1134.3 737.8 L1134.3 738.5 L1132.7 738.5 L1132.7 737.8 L1131.4 737.8 L1131.4 737.5 L1129.8 737.5 L1129.8 737.6 L1128 737.6 L1128 737.7 L1125 737.7Z" fill="#b0000a"/>
<path d="M1208 714L1208.5 714.1L1209 714.1L1209.5 714.1L1210 714.2L1210.5 714.2L1211 714.2L1211.5 714.2L1212 714.2L1212.5 714.2L1213 714.1L1213.5 714.1L1214 714L1214.5 713.9L1215 713.8L1215.5 713.7L1216 713.6L1216.5 713.5L1217 713.3L1217.5 713.1L1218 712.9L1218.5 712.7L1219 712.5L1219.5 712.3L1220 712.1L1220.5 711.8L1221 711.6L1221.5 711.3L1222 711L1222.5 710.8L1223 710.5L1223.5 710.2L1224 709.9L1224.5 709.5L1225 709.2L1225.5 708.9L1226 708.5L1226.5 708.2L1227 707.8L1227.5 707.5L1228 707.1L1228.5 706.7L1229 706.4L1229.5 706L1230 705.6L1230.5 705.2L1231 704.8L1231.5 704.4L1232 704L1232.5 703.6L1233 703.3L1233.5 702.9L1234 702.5L1234.5 702.1L1235 701.7L1235.5 701.3L1236 700.9L1236.5 700.5L1237 700.1L1237.5 699.7L1238 699.3L1238.5 698.9L1239 698.5L1239.5 698.1L1240 697.7L1240.5 697.3L1241 697L1241.5 696.6L1242 696.2L1242.5 695.9L1243 695.5L1243.5 695.2L1244 694.9L1244.5 694.5L1245 694.2L1245.5 693.9L1246 693.6L1246.5 693.3L1247 692.9L1247.5 692.6L1248 692.3L1248.5 692L1249 691.7L1249.5 691.4L1250 691.1L1250.5 690.8L1251 690.5L1251.5 690.2L1252 689.9L1252.5 689.7L1253 689.4L1253.5 689.1L1254 688.8L1254.5 688.5L1255 688.2L1255.5 687.9L1256 687.6L1256.5 687.3L1257 687L1257.5 686.7L1258 686.4L1258.5 686.1L1259 685.8L1259.5 685.5L1260 685.2L1260.5 684.9L1261 684.6L1261.5 684.3L1262 683.9L1262.5 683.6L1263 683.3L1263.5 683L1264 682.6L1264.5 682.3L1265 682L1265.5 681.6L1266 681.3L1266.5 680.9L1267 680.5L1267.5 680.2L1268 679.8L1268.5 679.4L1269 679.1L1269.5 678.7L1270 678.3L1270.5 677.9L1271 677.5L1271.5 677.1L1272 676.6L1272.5 676.2L1273 675.8L1273.5 675.3L1274 674.9L1274.5 674.4L1275 674L1275.5 673.5L1276 673L1276.5 672.5L1277 672L1277.5 671.5L1278 671L1278.5 670.4L1279 669.7L1279.5 669.1L1280 668.3L1280.5 667.6L1281 666.8L1281.5 666L1282 665.2L1282.5 664.4L1283 663.6L1283.5 662.8L1284 662L1284.5 661.2L1285 660.3L1285.5 659.4L1286 658.4L1286.5 657.3L1287 656.3L1287.5 655.4L1288 654.4L1288.5 653.6L1289 652.9L1289.5 652.3L1290 651.8L1290.5 651.6L1291 651.5L1291.5 651.8L1292 652.4L1292.5 653.2L1293 654.3L1293.5 655.4L1294 656.7L1294.5 658L1295 659.3L1295.5 660.5L1296 661.5L1296.5 662.3L1297 662.8L1297.5 663L1298 662.3L1298.5 660.5L1299 657.7L1299.5 654.3L1300 650.4L1300.5 646.4L1301 642.3L1301.5 638.6L1302 635.4L1302.5 633L1303 631.5L1303.5 630.2L1304 629L1304.5 627.8L1305 626.7L1305.5 625.6L1306 624.7L1306.5 623.9L1307 623.2L1307.5 622.6L1308 622.2L1308.5 621.9L1309 621.8L1309.5 622.5L1310 624.5L1310.5 627.5L1311 631.3L1311.5 635.8L1312 640.6L1312.5 645.5L1313 650.4L1313.5 655.1L1314 659.2L1314.5 662.5L1315 664.9L1315.5 666.2L1316 665.5L1316.5 661.2L1317 653.8L1317.5 644L1318 632.7L1318.5 620.6L1319 608.4L1319.5 597L1320 587.2L1320.5 579.7L1321 573.9L1321.5 568.4L1322 564.7L1322.5 564.1L1323 565.2L1323.5 567.2L1324 570L1324.5 573.1L1325 576.4L1325.5 579.5L1326 582.3L1326.5 584.3L1327 585.4L1327.5 585.4L1328 584.5L1328.5 583.1L1329 581L1329.5 578.6L1330 575.8L1330.5 572.9L1331 569.8L1331.5 566.7L1332 563.8L1332.5 561.1L1333 558.7L1333.5 556.7L1334 555.3L1334.5 554.3L1335 553.4L1335.5 552.4L1336 551.2L1336.5 549.3L1337 546.6L1337.5 543.4L1338 540.1L1338.5 537.1L1339 534.7L1339.5 533.3L1340 533.1L1340.5 534L1341 535.6L1341.5 537.8L1342 540.2L1342.5 542.7L1343 545L1343.5 547L1344 548.9L1344.5 550.9L1345 552.9L1345.5 555.2L1346 557.7L1346.5 560.6L1347 564L1347.5 569.3L1348 576.8L1348.5 585.3L1349 593.2L1349.5 599.2L1350 603.1L1350.5 606.8L1351 610.3L1351.5 613.6L1352 616.6L1352.5 619.2L1353 621.3L1353.5 622.8L1354 623.8L1354.5 624L1355 623.5L1355.5 622.3L1356 620.6L1356.5 618.6L1357 616.2L1357.5 613.7L1358 611.3L1358.5 608.9L1359 606.8L1359.5 605L1360 603.7L1360.5 603.1L1361 603.2L1361.5 604L1362 605.6L1362.5 607.8L1363 610.4L1363.5 613.4L1364 616.7L1364.5 620.1L1365 623.6L1365.5 627L1366 630.2L1366.5 633.1L1367 635.7L1367.5 637.8L1368 639.2L1368.5 639.9L1369 639.9L1369.5 639.3L1370 638.2L1370.5 636.8L1371 635.2L1371.5 633.3L1372 631.4L1372.5 629.6L1373 627.8L1373.5 626.3L1374 625.1L1374.5 624.3L1375 624L1375.5 624.1L1376 624.5L1376.5 625L1377 625.8L1377.5 626.8L1378 628" fill="none" stroke="#8c0008" stroke-width="4.0" stroke-linejoin="round" stroke-linecap="round"/>
<path d="M1374 625.2 L1375.3 625.2 L1375.3 625.6 L1376.8 625.6 L1376.8 626.3 L1378.8 626.3 L1378.8 626.3 L1380.3 626.3 L1380.3 629.3 L1382 629.3 L1382 630.7 L1383.6 630.7 L1383.6 631.2 L1384.6 631.2 L1384.6 632.3 L1386.2 632.3 L1386.2 634.5 L1387.8 634.5 L1387.8 635.3 L1389.4 635.3 L1389.4 637.7 L1390.7 637.7 L1390.7 638.1 L1392 638.1 L1392 639.9 L1393.3 639.9 L1393.3 642.1 L1394.4 642.1 L1394.4 642.8 L1395.5 642.8 L1395.5 645.1 L1396.8 645.1 L1396.8 646.9 L1398.3 646.9 L1398.3 647.6 L1400.2 647.6 L1400.2 650.5 L1401.9 650.5 L1401.9 651.2 L1403.4 651.2 L1403.4 653.4 L1405.2 653.4 L1405.2 654.8 L1406.6 654.8 L1406.6 655.9 L1407.6 655.9 L1407.6 657.5 L1409.3 657.5 L1409.3 659.1 L1411 659.1 L1411 662 L1412.7 662 L1412.7 664.6 L1414.5 664.6 L1414.5 669 L1416.3 669 L1416.3 671.5 L1418.2 671.5 L1418.2 674.1 L1419.2 674.1 L1419.2 687.3 L1421.2 687.3 L1421.2 692.3 L1422.8 692.3 L1422.8 695 L1424.4 695 L1424.4 698.3 L1426 698.3 L1426 700.6 L1427.3 700.6 L1427.3 701.6 L1428.6 701.6 L1428.6 703.8 L1430.5 703.8 L1430.5 706.1 L1432.1 706.1 L1432.1 707.4 L1434 707.4 L1434 710 L1435.2 710 L1435.2 712.1 L1436.8 712.1 L1436.8 715.4 L1438.4 715.4 L1438.4 719.1 L1439.4 719.1 L1439.4 723.9 L1441.1 723.9 L1441.1 729 L1442.5 729 L1442.5 732.8 L1443.9 732.8 L1443.9 735.3 L1445 735.3 L1445 737.3 L1445 737.3 L1444.2 737.3 L1444.2 737.3 L1442.3 737.3 L1442.3 737.3 L1440.4 737.3 L1440.4 737.3 L1438.9 737.3 L1438.9 737.3 L1437.5 737.3 L1437.5 737.3 L1435.8 737.3 L1435.8 737.3 L1434.6 737.3 L1434.6 737.3 L1433.5 737.3 L1433.5 737.3 L1432.5 737.3 L1432.5 733.7 L1430.5 733.7 L1430.5 725.9 L1429 725.9 L1429 718.6 L1427.6 718.6 L1427.6 712 L1425.6 712 L1425.6 708 L1424.5 708 L1424.5 705.4 L1423.5 705.4 L1423.5 702.5 L1422 702.5 L1422 698.9 L1420.1 698.9 L1420.1 696.4 L1419.1 696.4 L1419.1 693.3 L1417.3 693.3 L1417.3 690.2 L1415.8 690.2 L1415.8 686.8 L1414.5 686.8 L1414.5 684.8 L1413.4 684.8 L1413.4 683 L1411.5 683 L1411.5 681.1 L1410 681.1 L1410 678 L1408.3 678 L1408.3 676.7 L1406.6 676.7 L1406.6 675.5 L1405.4 675.5 L1405.4 674.5 L1403.8 674.5 L1403.8 673.9 L1402.4 673.9 L1402.4 671.7 L1401 671.7 L1401 672.2 L1399.2 672.2 L1399.2 669.3 L1397.5 669.3 L1397.5 668.4 L1396.1 668.4 L1396.1 667.8 L1395.1 667.8 L1395.1 667.2 L1393.1 667.2 L1393.1 664.8 L1391.7 664.8 L1391.7 663.5 L1390.1 663.5 L1390.1 662 L1389 662 L1389 661.4 L1387.9 661.4 L1387.9 658.6 L1386 658.6 L1386 655.1 L1384.3 655.1 L1384.3 652.7 L1383.1 652.7 L1383.1 650 L1381.7 650 L1381.7 646.6 L1380.2 646.6 L1380.2 642.5 L1378.4 642.5 L1378.4 639 L1376.6 639 L1376.6 634.2 L1375.4 634.2 L1375.4 630.4 L1374 630.4Z" fill="#a5000a"/>
</g>
<defs>
<filter id="b2" x="-50%" y="-50%" width="200%" height="200%"><feGaussianBlur stdDeviation="2"/></filter>
<filter id="b3" x="-50%" y="-50%" width="200%" height="200%"><feGaussianBlur stdDeviation="3"/></filter>
<filter id="b5" x="-50%" y="-50%" width="200%" height="200%"><feGaussianBlur stdDeviation="5"/></filter>
<filter id="b8" x="-50%" y="-50%" width="200%" height="200%"><feGaussianBlur stdDeviation="8"/></filter>
<filter id="b12" x="-50%" y="-50%" width="200%" height="200%"><feGaussianBlur stdDeviation="12"/></filter>
<clipPath id="ci1"><rect x="0" y="0" width="235.6" height="173.3"/></clipPath>
<clipPath id="ci2"><rect x="0" y="0" width="235.6" height="172"/></clipPath>
<clipPath id="ci3"><rect x="0" y="0" width="235.6" height="173"/></clipPath>
<linearGradient id="og1" x1="0" y1="0" x2="1" y2="0.4">
<stop offset="0" stop-color="#ffc400"/><stop offset="0.45" stop-color="#ffa800"/><stop offset="0.8" stop-color="#ff6a00"/><stop offset="1" stop-color="#d83800"/>
</linearGradient>
<radialGradient id="g2" cx="0.55" cy="0.55" r="0.55">
<stop offset="0" stop-color="#00d800"/><stop offset="0.55" stop-color="#00b000"/><stop offset="1" stop-color="#003000"/>
</radialGradient>
<linearGradient id="g3bg" x1="0" y1="0" x2="1" y2="0">
<stop offset="0" stop-color="#064406"/><stop offset="0.08" stop-color="#0a8a0a"/><stop offset="0.25" stop-color="#00bc00"/><stop offset="0.55" stop-color="#00c400"/><stop offset="0.8" stop-color="#008000"/><stop offset="1" stop-color="#003000"/>
</linearGradient>
<linearGradient id="g3r" gradientUnits="userSpaceOnUse" x1="140" y1="0" x2="240" y2="0">
<stop offset="0" stop-color="#c88000"/><stop offset="0.35" stop-color="#8a4c00"/><stop offset="0.7" stop-color="#4c2600"/><stop offset="1" stop-color="#261000"/>
</linearGradient>
<radialGradient id="y3" cx="0.5" cy="0.5" r="0.5">
<stop offset="0" stop-color="#fff200"/><stop offset="0.8" stop-color="#fff000"/><stop offset="1" stop-color="#f4e800"/>
</radialGradient>
</defs>

<!-- inset 1 -->
<g transform="translate(1538,36)" clip-path="url(#ci1)">
<rect width="236" height="174" fill="#000"/>
<g filter="url(#b12)">
<ellipse cx="92" cy="70" rx="78" ry="58" fill="#0a4a0a"/>
<ellipse cx="170" cy="62" rx="24" ry="36" fill="#083808"/>
<ellipse cx="100" cy="128" rx="45" ry="12" fill="#093c09"/>
</g>
<g filter="url(#b5)">
<ellipse cx="88" cy="20" rx="16" ry="10" fill="#0c8c0c" transform="rotate(-40 88 20)"/>
<ellipse cx="118" cy="32" rx="12" ry="12" fill="#0b8a0b"/>
<ellipse cx="140" cy="16" rx="14" ry="8" fill="#0a6a0a"/>
<ellipse cx="136" cy="6" rx="12" ry="5" fill="#0a5a0a"/>
<ellipse cx="33" cy="50" rx="6" ry="16" fill="#0a700a" transform="rotate(20 33 50)"/>
<ellipse cx="39" cy="96" rx="7" ry="11" fill="#0d880d"/>
<ellipse cx="25" cy="20" rx="10" ry="7" fill="#0a5a0a"/>
<ellipse cx="52" cy="12" rx="9" ry="7" fill="#0b640b"/>
<ellipse cx="60" cy="120" rx="18" ry="5" fill="#0a5a0a" transform="rotate(-30 60 120)"/>
<ellipse cx="108" cy="120" rx="16" ry="7" fill="#0a6a0a" transform="rotate(-20 108 120)"/>
<ellipse cx="75" cy="138" rx="14" ry="4" fill="#084a08" transform="rotate(-30 75 138)"/>
<ellipse cx="185" cy="35" rx="8" ry="14" fill="#0a600a"/>
<ellipse cx="195" cy="80" rx="8" ry="16" fill="#0a500a"/>
<ellipse cx="58" cy="30" rx="4" ry="10" fill="#4a4a08"/>
<ellipse cx="20" cy="70" rx="8" ry="18" fill="#073c07"/>
</g>
<path d="M50,96 L54,78 L66,56 L84,34 L98,28 L90,50 L76,76 L68,100 Z" fill="#14b814" filter="url(#b3)"/>
<ellipse cx="78" cy="98" rx="21" ry="8.5" fill="#6a8a00" filter="url(#b3)"/>
<path d="M59,89 L65,74 L82,47 L95,36 L105,39 L115,54 L118,68 L117,87 L109,97 L97,101 L82,91 Z" fill="#fff000" filter="url(#b2)"/>
<path d="M60,88 L66,75 L80,52 L72,80 Z" fill="#e4f400" filter="url(#b2)"/>
<ellipse cx="97" cy="42" rx="9" ry="6" fill="#c8a000" filter="url(#b3)"/>
<path d="M119,57 L136,63 L169,72 L183,82 L181,109 L171,123 L152,117 L140,103 L124,94 L119,82 Z" fill="url(#og1)" filter="url(#b2)"/>
<ellipse cx="168" cy="118" rx="14" ry="7" fill="#8a2000" filter="url(#b3)"/>
<path d="M117,56 L121,70 L120,92 L114,100" stroke="#7a3a00" stroke-width="4" fill="none" filter="url(#b2)"/>
<ellipse cx="155.6" cy="49.6" rx="19.5" ry="10.7" fill="#00c000" filter="url(#b2)"/>
</g>

<!-- inset 2 -->
<g transform="translate(1538,284)" clip-path="url(#ci2)">
<rect width="236" height="174" fill="#000"/>
<g filter="url(#b8)">
<ellipse cx="120" cy="22" rx="30" ry="18" fill="#0a440a"/>
<ellipse cx="82" cy="64" rx="16" ry="26" fill="#042c04"/>
<ellipse cx="190" cy="60" rx="10" ry="20" fill="#061e03"/>
</g>
<path d="M101,38 L120.6,28 L147.9,38.9 L175.1,50 L186.8,77.8 L200,110 L196,130 L175,138 L150,156 L132,150 L120,136 L104,112.8 L95,81.7 L96,56 Z" fill="#00ac00" filter="url(#b8)"/>
<ellipse cx="112" cy="138" rx="12" ry="20" fill="#007000" filter="url(#b5)"/>
<ellipse cx="172" cy="128" rx="28" ry="20" fill="#00b400" filter="url(#b8)"/>
<ellipse cx="150" cy="90" rx="30" ry="26" fill="#00de00" filter="url(#b8)"/>
<ellipse cx="116" cy="44" rx="14" ry="14" fill="#00b800" filter="url(#b8)"/>
<ellipse cx="128" cy="152" rx="6" ry="16" fill="#002800" filter="url(#b5)"/>
<path d="M128.4,58.4 L136.2,50.6 L146,51 L153.7,54 L160,52 L165.4,54.5 L169.3,66.1 L165.4,83.7 L155.6,93.4 L144,87.5 L132.3,74 Z" fill="#f0ff00" filter="url(#b2)"/>
</g>

<!-- inset 3 -->
<g transform="translate(1538,531)" clip-path="url(#ci3)">
<rect width="236" height="173" fill="url(#g3bg)"/>
<path d="M140,40 L175,30 L205,20 L236,10 L260,8 L260,190 L120,190 L125,150 L180,130 L198,95 L190,60 Z" fill="url(#g3r)" filter="url(#b5)"/>
<ellipse cx="178" cy="44" rx="22" ry="10" fill="#709a00" filter="url(#b5)" transform="rotate(-15 178 44)"/>
<ellipse cx="236" cy="0" rx="40" ry="22" fill="#001400" filter="url(#b8)"/>
<ellipse cx="240" cy="178" rx="25" ry="22" fill="#1a0800" filter="url(#b8)"/>
<ellipse cx="0" cy="178" rx="28" ry="22" fill="#063006" filter="url(#b8)"/>
<ellipse cx="0" cy="0" rx="25" ry="18" fill="#064006" filter="url(#b8)"/>
<path d="M100,118 L118,140 L126,178 L152,178 L152,128 Z" fill="#b0c800" filter="url(#b8)"/>
<ellipse cx="152" cy="100" rx="60" ry="56" fill="#ff9800" filter="url(#b8)"/>
<ellipse cx="139" cy="90" rx="56" ry="53" fill="url(#y3)" filter="url(#b3)"/>
<ellipse cx="166.5" cy="48" rx="9" ry="7.5" fill="#e8f000" filter="url(#b2)" transform="rotate(35 166.5 48)"/>
<ellipse cx="166.5" cy="48" rx="7" ry="5.2" fill="#004a14" transform="rotate(35 166.5 48)"/>
<ellipse cx="165" cy="47" rx="2.2" ry="1.6" fill="#2a7a2a"/>
</g>

<text x="154" y="48.0" text-anchor="end" class="tk">1</text>
<text x="1778" y="48.0" class="tk">1</text>
<text x="154" y="110.0" text-anchor="end" class="tk">0.1</text>
<text x="1778" y="110.0" class="tk">0.1</text>
<text x="154" y="173.0" text-anchor="end" class="tk">0.01</text>
<text x="1778" y="173.0" class="tk">0.01</text>
<text x="154" y="235.0" text-anchor="end" class="tk">0.001</text>
<text x="1778" y="235.0" class="tk">0.001</text>
<text x="154" y="295.5" text-anchor="end" class="tk">1</text>
<text x="1778" y="295.5" class="tk">1</text>
<text x="154" y="357.5" text-anchor="end" class="tk">0.1</text>
<text x="1778" y="357.5" class="tk">0.1</text>
<text x="154" y="420.5" text-anchor="end" class="tk">0.01</text>
<text x="1778" y="420.5" class="tk">0.01</text>
<text x="154" y="482.5" text-anchor="end" class="tk">0.001</text>
<text x="1778" y="482.5" class="tk">0.001</text>
<text x="154" y="543.0" text-anchor="end" class="tk">1</text>
<text x="1778" y="543.0" class="tk">1</text>
<text x="154" y="605.0" text-anchor="end" class="tk">0.1</text>
<text x="1778" y="605.0" class="tk">0.1</text>
<text x="154" y="668.0" text-anchor="end" class="tk">0.01</text>
<text x="1778" y="668.0" class="tk">0.01</text>
<text x="154" y="730.0" text-anchor="end" class="tk">0.001</text>
<text x="1778" y="730.0" class="tk">0.001</text>
<text x="161.0" y="273.5" text-anchor="middle" class="tx">400</text>
<text x="285.9" y="273.5" text-anchor="middle" class="tx">500</text>
<text x="410.8" y="273.5" text-anchor="middle" class="tx">600</text>
<text x="535.7" y="273.5" text-anchor="middle" class="tx">700</text>
<text x="660.6" y="273.5" text-anchor="middle" class="tx">800</text>
<text x="785.5" y="273.5" text-anchor="middle" class="tx">900</text>
<text x="910.4" y="273.5" text-anchor="middle" class="tx">1000</text>
<text x="984.2" y="273.5" text-anchor="middle" class="tx">900</text>
<text x="1115.2" y="273.5" text-anchor="middle" class="tx">950</text>
<text x="1246.2" y="273.5" text-anchor="middle" class="tx">1000</text>
<text x="1377.2" y="273.5" text-anchor="middle" class="tx">1050</text>
<text x="1508.2" y="273.5" text-anchor="middle" class="tx">1100</text>
<text x="1639.2" y="273.5" text-anchor="middle" class="tx">1150</text>
<text x="1770.2" y="273.5" text-anchor="middle" class="tx">1200</text>
<text x="161.0" y="521.0" text-anchor="middle" class="tx">400</text>
<text x="285.9" y="521.0" text-anchor="middle" class="tx">500</text>
<text x="410.8" y="521.0" text-anchor="middle" class="tx">600</text>
<text x="535.7" y="521.0" text-anchor="middle" class="tx">700</text>
<text x="660.6" y="521.0" text-anchor="middle" class="tx">800</text>
<text x="785.5" y="521.0" text-anchor="middle" class="tx">900</text>
<text x="910.4" y="521.0" text-anchor="middle" class="tx">1000</text>
<text x="984.2" y="521.0" text-anchor="middle" class="tx">900</text>
<text x="1115.2" y="521.0" text-anchor="middle" class="tx">950</text>
<text x="1246.2" y="521.0" text-anchor="middle" class="tx">1000</text>
<text x="1377.2" y="521.0" text-anchor="middle" class="tx">1050</text>
<text x="1508.2" y="521.0" text-anchor="middle" class="tx">1100</text>
<text x="1639.2" y="521.0" text-anchor="middle" class="tx">1150</text>
<text x="1770.2" y="521.0" text-anchor="middle" class="tx">1200</text>
<text x="161.0" y="768.5" text-anchor="middle" class="tx">400</text>
<text x="285.9" y="768.5" text-anchor="middle" class="tx">500</text>
<text x="410.8" y="768.5" text-anchor="middle" class="tx">600</text>
<text x="535.7" y="768.5" text-anchor="middle" class="tx">700</text>
<text x="660.6" y="768.5" text-anchor="middle" class="tx">800</text>
<text x="785.5" y="768.5" text-anchor="middle" class="tx">900</text>
<text x="910.4" y="768.5" text-anchor="middle" class="tx">1000</text>
<text x="984.2" y="768.5" text-anchor="middle" class="tx">900</text>
<text x="1115.2" y="768.5" text-anchor="middle" class="tx">950</text>
<text x="1246.2" y="768.5" text-anchor="middle" class="tx">1000</text>
<text x="1377.2" y="768.5" text-anchor="middle" class="tx">1050</text>
<text x="1508.2" y="768.5" text-anchor="middle" class="tx">1100</text>
<text x="1639.2" y="768.5" text-anchor="middle" class="tx">1150</text>
<text x="1770.2" y="768.5" text-anchor="middle" class="tx">1200</text>
<text x="170" y="67" class="pl">WG I</text>
<text x="169" y="315" class="pl">WG II</text>
<text x="170" y="561" class="pl">Bulk</text>
<text transform="translate(967.8,843.5) scale(0.913,1)" text-anchor="middle" class="xl">Wavelength(nm)</text>
<text transform="translate(58.5,386.8) rotate(-90) scale(0.955,1)" text-anchor="middle" class="yl">log<tspan font-size="33" dy="13.5">10</tspan><tspan dy="-13.5"> Spectra(a.u.)</tspan></text>
</svg>
</body></html>
